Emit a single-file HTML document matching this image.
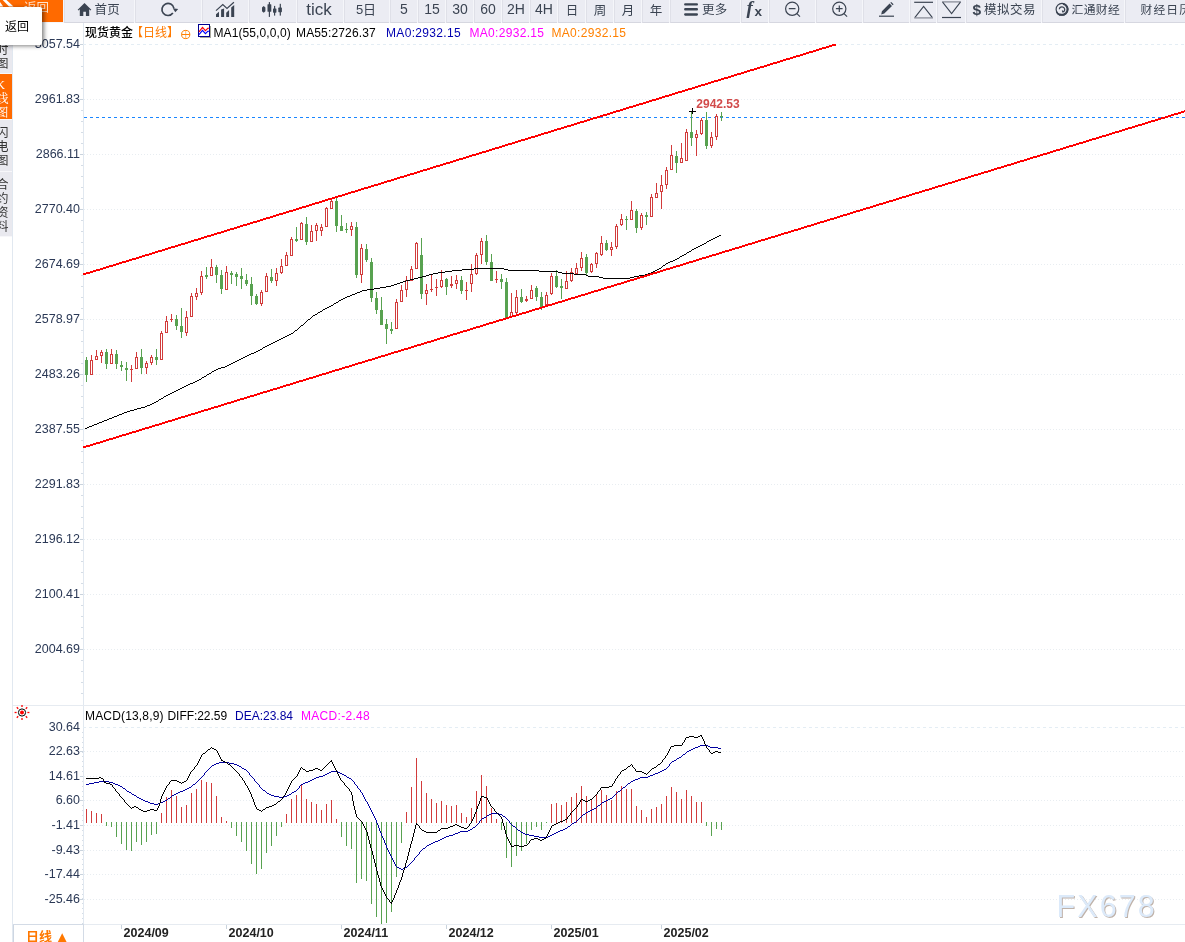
<!DOCTYPE html>
<html lang="zh-CN"><head><meta charset="utf-8"><title>现货黄金 日线</title>
<style>
html,body{margin:0;padding:0;background:#fff}
body{width:1185px;height:942px;overflow:hidden;position:relative;font-family:"Liberation Sans","Noto Sans CJK SC",sans-serif}
#tb{position:absolute;left:0;top:0;width:1185px;height:23px;background:#f5f6fa;overflow:hidden}
.b{position:absolute;top:-1px;height:24px;box-sizing:border-box;background:#ebecf3;border-left:1px solid #dfe0e8;border-bottom:1px solid #d6d7e0;color:#3b4452;font-size:14px;line-height:21px;text-align:center;white-space:nowrap;overflow:hidden}
.cj{font-size:12.5px;letter-spacing:.2px}
#back{position:absolute;left:0;top:0;width:63px;height:22px;background:#ff6a00;color:#ffe3cc;font-size:12.5px;line-height:17px}
#tip{position:absolute;left:-2px;top:6.5px;width:43.5px;height:38px;background:#fff;border-radius:2px;box-shadow:2px 1px 4px rgba(0,0,0,.5);font-size:12px;line-height:40px;color:#000}
#side{position:absolute;left:0;top:23px;width:12px;overflow:hidden}
#side div{width:12px;background:#e9e9ef;border-bottom:1px solid #f7f7fa;box-sizing:border-box;font-size:12.5px;line-height:14px;color:#333;overflow:hidden;position:relative}
#side div span{position:absolute;left:-4px;width:13px;display:block;word-break:break-all}
#leg{position:absolute;left:85px;top:25px;font-size:12px;line-height:16px;white-space:nowrap;color:#000}
#leg span{position:absolute;top:0}
#mleg{position:absolute;left:85px;top:708px;font-size:12px;line-height:16px;white-space:nowrap;color:#000}
#mleg span{position:absolute;top:0}
#per{position:absolute;left:26px;top:928px;font-size:13px;line-height:16px;font-weight:bold;color:#ff7800;white-space:nowrap}
</style></head><body>
<svg id="chart" width="1185" height="942" viewBox="0 0 1185 942" style="position:absolute;left:0;top:0">
<g shape-rendering="crispEdges" fill="none">
<rect x="12" y="23" width="1" height="919" fill="#e1e8f0"/>
<rect x="83" y="23" width="1" height="902" fill="#e1e8f0"/>
<rect x="13" y="705" width="1172" height="1" fill="#e6ebf1"/>
<rect x="13" y="924" width="1172" height="1" fill="#e6ebf1"/>
<rect x="83" y="924" width="1" height="18" fill="#d3dbe6"/>
<rect x="13" y="924" width="1" height="18" fill="#cdd6e2"/>
<rect x="13" y="924" width="70" height="1" fill="#d3dbe6"/>
<line x1="83" y1="44.5" x2="1185" y2="44.5" stroke="#e4edf4" stroke-dasharray="3 3"/>
<rect x="80" y="44" width="3" height="1" fill="#c9d3dd"/>
<line x1="84" y1="99.5" x2="1185" y2="99.5" stroke="#e8edf1" stroke-dasharray="1 2"/>
<rect x="80" y="99" width="3" height="1" fill="#c9d3dd"/>
<line x1="84" y1="154.5" x2="1185" y2="154.5" stroke="#e8edf1" stroke-dasharray="1 2"/>
<rect x="80" y="154" width="3" height="1" fill="#c9d3dd"/>
<line x1="84" y1="209.5" x2="1185" y2="209.5" stroke="#e8edf1" stroke-dasharray="1 2"/>
<rect x="80" y="209" width="3" height="1" fill="#c9d3dd"/>
<line x1="84" y1="264.5" x2="1185" y2="264.5" stroke="#e8edf1" stroke-dasharray="1 2"/>
<rect x="80" y="264" width="3" height="1" fill="#c9d3dd"/>
<line x1="84" y1="319.5" x2="1185" y2="319.5" stroke="#e8edf1" stroke-dasharray="1 2"/>
<rect x="80" y="319" width="3" height="1" fill="#c9d3dd"/>
<line x1="84" y1="374.5" x2="1185" y2="374.5" stroke="#e8edf1" stroke-dasharray="1 2"/>
<rect x="80" y="374" width="3" height="1" fill="#c9d3dd"/>
<line x1="84" y1="429.5" x2="1185" y2="429.5" stroke="#e8edf1" stroke-dasharray="1 2"/>
<rect x="80" y="429" width="3" height="1" fill="#c9d3dd"/>
<line x1="84" y1="484.5" x2="1185" y2="484.5" stroke="#e8edf1" stroke-dasharray="1 2"/>
<rect x="80" y="484" width="3" height="1" fill="#c9d3dd"/>
<line x1="84" y1="539.5" x2="1185" y2="539.5" stroke="#e8edf1" stroke-dasharray="1 2"/>
<rect x="80" y="539" width="3" height="1" fill="#c9d3dd"/>
<line x1="84" y1="594.5" x2="1185" y2="594.5" stroke="#e8edf1" stroke-dasharray="1 2"/>
<rect x="80" y="594" width="3" height="1" fill="#c9d3dd"/>
<line x1="84" y1="649.5" x2="1185" y2="649.5" stroke="#e8edf1" stroke-dasharray="1 2"/>
<rect x="80" y="649" width="3" height="1" fill="#c9d3dd"/>
<rect x="81" y="55" width="2" height="1" fill="#d5dde6"/>
<rect x="81" y="66" width="2" height="1" fill="#d5dde6"/>
<rect x="81" y="77" width="2" height="1" fill="#d5dde6"/>
<rect x="81" y="88" width="2" height="1" fill="#d5dde6"/>
<rect x="81" y="110" width="2" height="1" fill="#d5dde6"/>
<rect x="81" y="121" width="2" height="1" fill="#d5dde6"/>
<rect x="81" y="132" width="2" height="1" fill="#d5dde6"/>
<rect x="81" y="143" width="2" height="1" fill="#d5dde6"/>
<rect x="81" y="165" width="2" height="1" fill="#d5dde6"/>
<rect x="81" y="176" width="2" height="1" fill="#d5dde6"/>
<rect x="81" y="187" width="2" height="1" fill="#d5dde6"/>
<rect x="81" y="198" width="2" height="1" fill="#d5dde6"/>
<rect x="81" y="220" width="2" height="1" fill="#d5dde6"/>
<rect x="81" y="231" width="2" height="1" fill="#d5dde6"/>
<rect x="81" y="242" width="2" height="1" fill="#d5dde6"/>
<rect x="81" y="253" width="2" height="1" fill="#d5dde6"/>
<rect x="81" y="275" width="2" height="1" fill="#d5dde6"/>
<rect x="81" y="286" width="2" height="1" fill="#d5dde6"/>
<rect x="81" y="297" width="2" height="1" fill="#d5dde6"/>
<rect x="81" y="308" width="2" height="1" fill="#d5dde6"/>
<rect x="81" y="330" width="2" height="1" fill="#d5dde6"/>
<rect x="81" y="341" width="2" height="1" fill="#d5dde6"/>
<rect x="81" y="352" width="2" height="1" fill="#d5dde6"/>
<rect x="81" y="363" width="2" height="1" fill="#d5dde6"/>
<rect x="81" y="385" width="2" height="1" fill="#d5dde6"/>
<rect x="81" y="396" width="2" height="1" fill="#d5dde6"/>
<rect x="81" y="407" width="2" height="1" fill="#d5dde6"/>
<rect x="81" y="418" width="2" height="1" fill="#d5dde6"/>
<rect x="81" y="440" width="2" height="1" fill="#d5dde6"/>
<rect x="81" y="451" width="2" height="1" fill="#d5dde6"/>
<rect x="81" y="462" width="2" height="1" fill="#d5dde6"/>
<rect x="81" y="473" width="2" height="1" fill="#d5dde6"/>
<rect x="81" y="495" width="2" height="1" fill="#d5dde6"/>
<rect x="81" y="506" width="2" height="1" fill="#d5dde6"/>
<rect x="81" y="517" width="2" height="1" fill="#d5dde6"/>
<rect x="81" y="528" width="2" height="1" fill="#d5dde6"/>
<rect x="81" y="550" width="2" height="1" fill="#d5dde6"/>
<rect x="81" y="561" width="2" height="1" fill="#d5dde6"/>
<rect x="81" y="572" width="2" height="1" fill="#d5dde6"/>
<rect x="81" y="583" width="2" height="1" fill="#d5dde6"/>
<rect x="81" y="605" width="2" height="1" fill="#d5dde6"/>
<rect x="81" y="616" width="2" height="1" fill="#d5dde6"/>
<rect x="81" y="627" width="2" height="1" fill="#d5dde6"/>
<rect x="81" y="638" width="2" height="1" fill="#d5dde6"/>
<rect x="81" y="660" width="2" height="1" fill="#d5dde6"/>
<rect x="81" y="671" width="2" height="1" fill="#d5dde6"/>
<rect x="81" y="682" width="2" height="1" fill="#d5dde6"/>
<rect x="81" y="693" width="2" height="1" fill="#d5dde6"/>
<line x1="83" y1="727.5" x2="1185" y2="727.5" stroke="#e4edf4" stroke-dasharray="3 3"/>
<line x1="84" y1="751.5" x2="1185" y2="751.5" stroke="#e8edf1" stroke-dasharray="1 2"/>
<rect x="80" y="751" width="3" height="1" fill="#c9d3dd"/>
<line x1="84" y1="776.5" x2="1185" y2="776.5" stroke="#e8edf1" stroke-dasharray="1 2"/>
<rect x="80" y="776" width="3" height="1" fill="#c9d3dd"/>
<line x1="84" y1="800.5" x2="1185" y2="800.5" stroke="#e8edf1" stroke-dasharray="1 2"/>
<rect x="80" y="800" width="3" height="1" fill="#c9d3dd"/>
<line x1="84" y1="825.5" x2="1185" y2="825.5" stroke="#e8edf1" stroke-dasharray="1 2"/>
<rect x="80" y="825" width="3" height="1" fill="#c9d3dd"/>
<line x1="84" y1="850.5" x2="1185" y2="850.5" stroke="#e8edf1" stroke-dasharray="1 2"/>
<rect x="80" y="850" width="3" height="1" fill="#c9d3dd"/>
<line x1="84" y1="874.5" x2="1185" y2="874.5" stroke="#e8edf1" stroke-dasharray="1 2"/>
<rect x="80" y="874" width="3" height="1" fill="#c9d3dd"/>
<line x1="84" y1="899.5" x2="1185" y2="899.5" stroke="#e8edf1" stroke-dasharray="1 2"/>
<rect x="80" y="899" width="3" height="1" fill="#c9d3dd"/>
<rect x="82" y="732" width="1" height="1" fill="#d5dde6"/>
<rect x="82" y="737" width="1" height="1" fill="#d5dde6"/>
<rect x="82" y="742" width="1" height="1" fill="#d5dde6"/>
<rect x="82" y="747" width="1" height="1" fill="#d5dde6"/>
<rect x="82" y="752" width="1" height="1" fill="#d5dde6"/>
<rect x="82" y="756" width="1" height="1" fill="#d5dde6"/>
<rect x="82" y="761" width="1" height="1" fill="#d5dde6"/>
<rect x="82" y="766" width="1" height="1" fill="#d5dde6"/>
<rect x="82" y="771" width="1" height="1" fill="#d5dde6"/>
<rect x="82" y="781" width="1" height="1" fill="#d5dde6"/>
<rect x="82" y="786" width="1" height="1" fill="#d5dde6"/>
<rect x="82" y="791" width="1" height="1" fill="#d5dde6"/>
<rect x="82" y="796" width="1" height="1" fill="#d5dde6"/>
<rect x="82" y="805" width="1" height="1" fill="#d5dde6"/>
<rect x="82" y="810" width="1" height="1" fill="#d5dde6"/>
<rect x="82" y="815" width="1" height="1" fill="#d5dde6"/>
<rect x="82" y="820" width="1" height="1" fill="#d5dde6"/>
<rect x="82" y="830" width="1" height="1" fill="#d5dde6"/>
<rect x="82" y="835" width="1" height="1" fill="#d5dde6"/>
<rect x="82" y="840" width="1" height="1" fill="#d5dde6"/>
<rect x="82" y="845" width="1" height="1" fill="#d5dde6"/>
<rect x="82" y="854" width="1" height="1" fill="#d5dde6"/>
<rect x="82" y="859" width="1" height="1" fill="#d5dde6"/>
<rect x="82" y="864" width="1" height="1" fill="#d5dde6"/>
<rect x="82" y="869" width="1" height="1" fill="#d5dde6"/>
<rect x="82" y="879" width="1" height="1" fill="#d5dde6"/>
<rect x="82" y="884" width="1" height="1" fill="#d5dde6"/>
<rect x="82" y="889" width="1" height="1" fill="#d5dde6"/>
<rect x="82" y="894" width="1" height="1" fill="#d5dde6"/>
<rect x="82" y="898" width="1" height="1" fill="#d5dde6"/>
<rect x="82" y="903" width="1" height="1" fill="#d5dde6"/>
<rect x="82" y="908" width="1" height="1" fill="#d5dde6"/>
<rect x="82" y="913" width="1" height="1" fill="#d5dde6"/>
<rect x="82" y="918" width="1" height="1" fill="#d5dde6"/>
<rect x="82" y="923" width="1" height="1" fill="#d5dde6"/>
<rect x="121" y="925" width="1" height="4" fill="#c9d3dd"/>
<rect x="226" y="925" width="1" height="4" fill="#c9d3dd"/>
<rect x="341" y="925" width="1" height="4" fill="#c9d3dd"/>
<rect x="446" y="925" width="1" height="4" fill="#c9d3dd"/>
<rect x="551" y="925" width="1" height="4" fill="#c9d3dd"/>
<rect x="661" y="925" width="1" height="4" fill="#c9d3dd"/>
</g>
<line x1="84" y1="117.5" x2="1185" y2="117.5" stroke="#1a86ff" stroke-dasharray="3 3" shape-rendering="crispEdges"/>
<g shape-rendering="crispEdges">
<rect x="86" y="357" width="1" height="25" fill="#58a250"/>
<rect x="85" y="360" width="3" height="15" fill="#58a250"/>
<rect x="91" y="355" width="1" height="20" fill="#d23b3b"/>
<rect x="90" y="360" width="3" height="15" fill="#d23b3b"/>
<rect x="91" y="361" width="1" height="13" fill="#fff"/>
<rect x="96" y="350" width="1" height="10" fill="#d23b3b"/>
<rect x="95" y="356" width="3" height="4" fill="#d23b3b"/>
<rect x="96" y="357" width="1" height="2" fill="#fff"/>
<rect x="101" y="350" width="1" height="13" fill="#d23b3b"/>
<rect x="100" y="352" width="3" height="4" fill="#d23b3b"/>
<rect x="101" y="353" width="1" height="2" fill="#fff"/>
<rect x="106" y="349" width="1" height="20" fill="#58a250"/>
<rect x="105" y="352" width="3" height="12" fill="#58a250"/>
<rect x="111" y="349" width="1" height="15" fill="#d23b3b"/>
<rect x="110" y="354" width="3" height="10" fill="#d23b3b"/>
<rect x="111" y="355" width="1" height="8" fill="#fff"/>
<rect x="116" y="350" width="1" height="19" fill="#58a250"/>
<rect x="115" y="354" width="3" height="10" fill="#58a250"/>
<rect x="121" y="361" width="1" height="10" fill="#58a250"/>
<rect x="120" y="365" width="3" height="2" fill="#58a250"/>
<rect x="126" y="362" width="1" height="19" fill="#58a250"/>
<rect x="125" y="368" width="3" height="2" fill="#58a250"/>
<rect x="131" y="365" width="1" height="17" fill="#d23b3b"/>
<rect x="130" y="369" width="3" height="1" fill="#d23b3b"/>
<rect x="136" y="352" width="1" height="17" fill="#d23b3b"/>
<rect x="135" y="357" width="3" height="12" fill="#d23b3b"/>
<rect x="136" y="358" width="1" height="10" fill="#fff"/>
<rect x="141" y="349" width="1" height="25" fill="#58a250"/>
<rect x="140" y="357" width="3" height="11" fill="#58a250"/>
<rect x="146" y="361" width="1" height="13" fill="#d23b3b"/>
<rect x="145" y="363" width="3" height="5" fill="#d23b3b"/>
<rect x="146" y="364" width="1" height="3" fill="#fff"/>
<rect x="151" y="355" width="1" height="10" fill="#d23b3b"/>
<rect x="150" y="357" width="3" height="6" fill="#d23b3b"/>
<rect x="151" y="358" width="1" height="4" fill="#fff"/>
<rect x="156" y="349" width="1" height="16" fill="#58a250"/>
<rect x="155" y="357" width="3" height="3" fill="#58a250"/>
<rect x="161" y="331" width="1" height="29" fill="#d23b3b"/>
<rect x="160" y="333" width="3" height="27" fill="#d23b3b"/>
<rect x="161" y="334" width="1" height="25" fill="#fff"/>
<rect x="166" y="316" width="1" height="17" fill="#d23b3b"/>
<rect x="165" y="321" width="3" height="12" fill="#d23b3b"/>
<rect x="166" y="322" width="1" height="10" fill="#fff"/>
<rect x="171" y="314" width="1" height="8" fill="#d23b3b"/>
<rect x="170" y="319" width="3" height="1" fill="#d23b3b"/>
<rect x="176" y="315" width="1" height="15" fill="#58a250"/>
<rect x="175" y="319" width="3" height="7" fill="#58a250"/>
<rect x="181" y="308" width="1" height="30" fill="#58a250"/>
<rect x="180" y="326" width="3" height="6" fill="#58a250"/>
<rect x="186" y="311" width="1" height="25" fill="#d23b3b"/>
<rect x="185" y="317" width="3" height="16" fill="#d23b3b"/>
<rect x="186" y="318" width="1" height="14" fill="#fff"/>
<rect x="191" y="293" width="1" height="24" fill="#d23b3b"/>
<rect x="190" y="296" width="3" height="21" fill="#d23b3b"/>
<rect x="191" y="297" width="1" height="19" fill="#fff"/>
<rect x="196" y="288" width="1" height="12" fill="#d23b3b"/>
<rect x="195" y="293" width="3" height="4" fill="#d23b3b"/>
<rect x="196" y="294" width="1" height="2" fill="#fff"/>
<rect x="201" y="271" width="1" height="24" fill="#d23b3b"/>
<rect x="200" y="276" width="3" height="17" fill="#d23b3b"/>
<rect x="201" y="277" width="1" height="15" fill="#fff"/>
<rect x="206" y="267" width="1" height="12" fill="#58a250"/>
<rect x="205" y="275" width="3" height="2" fill="#58a250"/>
<rect x="211" y="259" width="1" height="17" fill="#d23b3b"/>
<rect x="210" y="267" width="3" height="9" fill="#d23b3b"/>
<rect x="211" y="268" width="1" height="7" fill="#fff"/>
<rect x="216" y="265" width="1" height="18" fill="#58a250"/>
<rect x="215" y="267" width="3" height="8" fill="#58a250"/>
<rect x="221" y="270" width="1" height="24" fill="#58a250"/>
<rect x="220" y="275" width="3" height="14" fill="#58a250"/>
<rect x="226" y="266" width="1" height="24" fill="#d23b3b"/>
<rect x="225" y="272" width="3" height="18" fill="#d23b3b"/>
<rect x="226" y="273" width="1" height="16" fill="#fff"/>
<rect x="231" y="271" width="1" height="13" fill="#58a250"/>
<rect x="230" y="273" width="3" height="2" fill="#58a250"/>
<rect x="236" y="272" width="1" height="14" fill="#58a250"/>
<rect x="235" y="274" width="3" height="3" fill="#58a250"/>
<rect x="241" y="268" width="1" height="21" fill="#58a250"/>
<rect x="240" y="276" width="3" height="3" fill="#58a250"/>
<rect x="246" y="274" width="1" height="12" fill="#58a250"/>
<rect x="245" y="280" width="3" height="4" fill="#58a250"/>
<rect x="251" y="277" width="1" height="28" fill="#58a250"/>
<rect x="250" y="284" width="3" height="12" fill="#58a250"/>
<rect x="256" y="294" width="1" height="11" fill="#58a250"/>
<rect x="255" y="296" width="3" height="8" fill="#58a250"/>
<rect x="261" y="290" width="1" height="16" fill="#d23b3b"/>
<rect x="260" y="292" width="3" height="12" fill="#d23b3b"/>
<rect x="261" y="293" width="1" height="10" fill="#fff"/>
<rect x="266" y="273" width="1" height="19" fill="#d23b3b"/>
<rect x="265" y="276" width="3" height="16" fill="#d23b3b"/>
<rect x="266" y="277" width="1" height="14" fill="#fff"/>
<rect x="271" y="269" width="1" height="14" fill="#58a250"/>
<rect x="270" y="277" width="3" height="4" fill="#58a250"/>
<rect x="276" y="268" width="1" height="18" fill="#d23b3b"/>
<rect x="275" y="273" width="3" height="8" fill="#d23b3b"/>
<rect x="276" y="274" width="1" height="6" fill="#fff"/>
<rect x="281" y="259" width="1" height="15" fill="#d23b3b"/>
<rect x="280" y="266" width="3" height="7" fill="#d23b3b"/>
<rect x="281" y="267" width="1" height="5" fill="#fff"/>
<rect x="286" y="252" width="1" height="14" fill="#d23b3b"/>
<rect x="285" y="255" width="3" height="11" fill="#d23b3b"/>
<rect x="286" y="256" width="1" height="9" fill="#fff"/>
<rect x="291" y="237" width="1" height="19" fill="#d23b3b"/>
<rect x="290" y="239" width="3" height="17" fill="#d23b3b"/>
<rect x="291" y="240" width="1" height="15" fill="#fff"/>
<rect x="296" y="227" width="1" height="15" fill="#58a250"/>
<rect x="295" y="239" width="3" height="2" fill="#58a250"/>
<rect x="301" y="222" width="1" height="18" fill="#d23b3b"/>
<rect x="300" y="223" width="3" height="17" fill="#d23b3b"/>
<rect x="301" y="224" width="1" height="15" fill="#fff"/>
<rect x="306" y="217" width="1" height="28" fill="#58a250"/>
<rect x="305" y="224" width="3" height="18" fill="#58a250"/>
<rect x="311" y="225" width="1" height="17" fill="#d23b3b"/>
<rect x="310" y="231" width="3" height="11" fill="#d23b3b"/>
<rect x="311" y="232" width="1" height="9" fill="#fff"/>
<rect x="316" y="223" width="1" height="18" fill="#d23b3b"/>
<rect x="315" y="225" width="3" height="6" fill="#d23b3b"/>
<rect x="316" y="226" width="1" height="4" fill="#fff"/>
<rect x="321" y="224" width="1" height="12" fill="#d23b3b"/>
<rect x="320" y="227" width="3" height="4" fill="#d23b3b"/>
<rect x="321" y="228" width="1" height="2" fill="#fff"/>
<rect x="326" y="207" width="1" height="20" fill="#d23b3b"/>
<rect x="325" y="208" width="3" height="19" fill="#d23b3b"/>
<rect x="326" y="209" width="1" height="17" fill="#fff"/>
<rect x="331" y="200" width="1" height="9" fill="#d23b3b"/>
<rect x="330" y="201" width="3" height="8" fill="#d23b3b"/>
<rect x="331" y="202" width="1" height="6" fill="#fff"/>
<rect x="336" y="198" width="1" height="34" fill="#58a250"/>
<rect x="335" y="201" width="3" height="25" fill="#58a250"/>
<rect x="341" y="215" width="1" height="16" fill="#58a250"/>
<rect x="340" y="226" width="3" height="5" fill="#58a250"/>
<rect x="346" y="223" width="1" height="10" fill="#58a250"/>
<rect x="345" y="229" width="3" height="1" fill="#58a250"/>
<rect x="351" y="222" width="1" height="14" fill="#d23b3b"/>
<rect x="350" y="226" width="3" height="4" fill="#d23b3b"/>
<rect x="351" y="227" width="1" height="2" fill="#fff"/>
<rect x="356" y="222" width="1" height="56" fill="#58a250"/>
<rect x="355" y="227" width="3" height="48" fill="#58a250"/>
<rect x="361" y="244" width="1" height="39" fill="#d23b3b"/>
<rect x="360" y="248" width="3" height="27" fill="#d23b3b"/>
<rect x="361" y="249" width="1" height="25" fill="#fff"/>
<rect x="366" y="244" width="1" height="18" fill="#58a250"/>
<rect x="365" y="249" width="3" height="11" fill="#58a250"/>
<rect x="371" y="258" width="1" height="44" fill="#58a250"/>
<rect x="370" y="262" width="3" height="36" fill="#58a250"/>
<rect x="376" y="292" width="1" height="22" fill="#58a250"/>
<rect x="375" y="298" width="3" height="12" fill="#58a250"/>
<rect x="381" y="297" width="1" height="28" fill="#58a250"/>
<rect x="380" y="310" width="3" height="15" fill="#58a250"/>
<rect x="386" y="319" width="1" height="25" fill="#58a250"/>
<rect x="385" y="324" width="3" height="5" fill="#58a250"/>
<rect x="391" y="322" width="1" height="12" fill="#58a250"/>
<rect x="390" y="329" width="3" height="2" fill="#58a250"/>
<rect x="396" y="299" width="1" height="30" fill="#d23b3b"/>
<rect x="395" y="302" width="3" height="27" fill="#d23b3b"/>
<rect x="396" y="303" width="1" height="25" fill="#fff"/>
<rect x="401" y="285" width="1" height="17" fill="#d23b3b"/>
<rect x="400" y="290" width="3" height="12" fill="#d23b3b"/>
<rect x="401" y="291" width="1" height="10" fill="#fff"/>
<rect x="406" y="276" width="1" height="21" fill="#d23b3b"/>
<rect x="405" y="280" width="3" height="10" fill="#d23b3b"/>
<rect x="406" y="281" width="1" height="8" fill="#fff"/>
<rect x="411" y="266" width="1" height="15" fill="#d23b3b"/>
<rect x="410" y="269" width="3" height="12" fill="#d23b3b"/>
<rect x="411" y="270" width="1" height="10" fill="#fff"/>
<rect x="416" y="242" width="1" height="27" fill="#d23b3b"/>
<rect x="415" y="243" width="3" height="26" fill="#d23b3b"/>
<rect x="416" y="244" width="1" height="24" fill="#fff"/>
<rect x="421" y="238" width="1" height="61" fill="#58a250"/>
<rect x="420" y="255" width="3" height="39" fill="#58a250"/>
<rect x="426" y="284" width="1" height="21" fill="#d23b3b"/>
<rect x="425" y="290" width="3" height="4" fill="#d23b3b"/>
<rect x="426" y="291" width="1" height="2" fill="#fff"/>
<rect x="431" y="275" width="1" height="17" fill="#d23b3b"/>
<rect x="430" y="289" width="3" height="1" fill="#d23b3b"/>
<rect x="436" y="279" width="1" height="17" fill="#d23b3b"/>
<rect x="435" y="287" width="3" height="1" fill="#d23b3b"/>
<rect x="441" y="270" width="1" height="18" fill="#d23b3b"/>
<rect x="440" y="280" width="3" height="7" fill="#d23b3b"/>
<rect x="441" y="281" width="1" height="5" fill="#fff"/>
<rect x="446" y="278" width="1" height="17" fill="#58a250"/>
<rect x="445" y="279" width="3" height="8" fill="#58a250"/>
<rect x="451" y="276" width="1" height="12" fill="#d23b3b"/>
<rect x="450" y="284" width="3" height="2" fill="#d23b3b"/>
<rect x="456" y="275" width="1" height="14" fill="#d23b3b"/>
<rect x="455" y="280" width="3" height="4" fill="#d23b3b"/>
<rect x="456" y="281" width="1" height="2" fill="#fff"/>
<rect x="461" y="276" width="1" height="18" fill="#58a250"/>
<rect x="460" y="280" width="3" height="11" fill="#58a250"/>
<rect x="466" y="282" width="1" height="18" fill="#d23b3b"/>
<rect x="465" y="290" width="3" height="1" fill="#d23b3b"/>
<rect x="471" y="264" width="1" height="28" fill="#d23b3b"/>
<rect x="470" y="274" width="3" height="10" fill="#d23b3b"/>
<rect x="471" y="275" width="1" height="8" fill="#fff"/>
<rect x="476" y="253" width="1" height="22" fill="#d23b3b"/>
<rect x="475" y="255" width="3" height="19" fill="#d23b3b"/>
<rect x="476" y="256" width="1" height="17" fill="#fff"/>
<rect x="481" y="238" width="1" height="26" fill="#d23b3b"/>
<rect x="480" y="241" width="3" height="14" fill="#d23b3b"/>
<rect x="481" y="242" width="1" height="12" fill="#fff"/>
<rect x="486" y="235" width="1" height="30" fill="#58a250"/>
<rect x="485" y="241" width="3" height="21" fill="#58a250"/>
<rect x="491" y="254" width="1" height="27" fill="#58a250"/>
<rect x="490" y="262" width="3" height="19" fill="#58a250"/>
<rect x="496" y="271" width="1" height="12" fill="#d23b3b"/>
<rect x="495" y="279" width="3" height="1" fill="#d23b3b"/>
<rect x="501" y="274" width="1" height="15" fill="#58a250"/>
<rect x="500" y="279" width="3" height="3" fill="#58a250"/>
<rect x="506" y="278" width="1" height="40" fill="#58a250"/>
<rect x="505" y="282" width="3" height="36" fill="#58a250"/>
<rect x="511" y="293" width="1" height="24" fill="#d23b3b"/>
<rect x="510" y="312" width="3" height="5" fill="#d23b3b"/>
<rect x="511" y="313" width="1" height="3" fill="#fff"/>
<rect x="516" y="290" width="1" height="24" fill="#d23b3b"/>
<rect x="515" y="297" width="3" height="16" fill="#d23b3b"/>
<rect x="516" y="298" width="1" height="14" fill="#fff"/>
<rect x="521" y="289" width="1" height="14" fill="#58a250"/>
<rect x="520" y="297" width="3" height="5" fill="#58a250"/>
<rect x="526" y="296" width="1" height="6" fill="#d23b3b"/>
<rect x="525" y="299" width="3" height="2" fill="#d23b3b"/>
<rect x="531" y="285" width="1" height="14" fill="#d23b3b"/>
<rect x="530" y="290" width="3" height="9" fill="#d23b3b"/>
<rect x="531" y="291" width="1" height="7" fill="#fff"/>
<rect x="536" y="286" width="1" height="15" fill="#58a250"/>
<rect x="535" y="288" width="3" height="9" fill="#58a250"/>
<rect x="541" y="292" width="1" height="18" fill="#58a250"/>
<rect x="540" y="297" width="3" height="10" fill="#58a250"/>
<rect x="546" y="292" width="1" height="13" fill="#d23b3b"/>
<rect x="545" y="295" width="3" height="10" fill="#d23b3b"/>
<rect x="546" y="296" width="1" height="8" fill="#fff"/>
<rect x="551" y="273" width="1" height="22" fill="#d23b3b"/>
<rect x="550" y="276" width="3" height="18" fill="#d23b3b"/>
<rect x="551" y="277" width="1" height="16" fill="#fff"/>
<rect x="556" y="270" width="1" height="18" fill="#58a250"/>
<rect x="555" y="276" width="3" height="11" fill="#58a250"/>
<rect x="561" y="279" width="1" height="20" fill="#58a250"/>
<rect x="560" y="286" width="3" height="2" fill="#58a250"/>
<rect x="566" y="271" width="1" height="18" fill="#d23b3b"/>
<rect x="565" y="281" width="3" height="8" fill="#d23b3b"/>
<rect x="566" y="282" width="1" height="6" fill="#fff"/>
<rect x="571" y="268" width="1" height="14" fill="#d23b3b"/>
<rect x="570" y="272" width="3" height="9" fill="#d23b3b"/>
<rect x="571" y="273" width="1" height="7" fill="#fff"/>
<rect x="576" y="263" width="1" height="12" fill="#d23b3b"/>
<rect x="575" y="268" width="3" height="6" fill="#d23b3b"/>
<rect x="576" y="269" width="1" height="4" fill="#fff"/>
<rect x="581" y="252" width="1" height="19" fill="#d23b3b"/>
<rect x="580" y="258" width="3" height="10" fill="#d23b3b"/>
<rect x="581" y="259" width="1" height="8" fill="#fff"/>
<rect x="586" y="254" width="1" height="21" fill="#58a250"/>
<rect x="585" y="257" width="3" height="16" fill="#58a250"/>
<rect x="591" y="263" width="1" height="10" fill="#d23b3b"/>
<rect x="590" y="264" width="3" height="8" fill="#d23b3b"/>
<rect x="591" y="265" width="1" height="6" fill="#fff"/>
<rect x="596" y="252" width="1" height="16" fill="#d23b3b"/>
<rect x="595" y="253" width="3" height="11" fill="#d23b3b"/>
<rect x="596" y="254" width="1" height="9" fill="#fff"/>
<rect x="601" y="236" width="1" height="20" fill="#d23b3b"/>
<rect x="600" y="243" width="3" height="12" fill="#d23b3b"/>
<rect x="601" y="244" width="1" height="10" fill="#fff"/>
<rect x="606" y="240" width="1" height="11" fill="#58a250"/>
<rect x="605" y="243" width="3" height="7" fill="#58a250"/>
<rect x="611" y="242" width="1" height="14" fill="#d23b3b"/>
<rect x="610" y="247" width="3" height="3" fill="#d23b3b"/>
<rect x="611" y="248" width="1" height="1" fill="#fff"/>
<rect x="616" y="224" width="1" height="25" fill="#d23b3b"/>
<rect x="615" y="226" width="3" height="21" fill="#d23b3b"/>
<rect x="616" y="227" width="1" height="19" fill="#fff"/>
<rect x="621" y="214" width="1" height="12" fill="#d23b3b"/>
<rect x="620" y="219" width="3" height="6" fill="#d23b3b"/>
<rect x="621" y="220" width="1" height="4" fill="#fff"/>
<rect x="626" y="216" width="1" height="14" fill="#58a250"/>
<rect x="625" y="219" width="3" height="1" fill="#58a250"/>
<rect x="631" y="201" width="1" height="19" fill="#d23b3b"/>
<rect x="630" y="210" width="3" height="10" fill="#d23b3b"/>
<rect x="631" y="211" width="1" height="8" fill="#fff"/>
<rect x="636" y="209" width="1" height="24" fill="#58a250"/>
<rect x="635" y="211" width="3" height="17" fill="#58a250"/>
<rect x="641" y="213" width="1" height="17" fill="#d23b3b"/>
<rect x="640" y="215" width="3" height="13" fill="#d23b3b"/>
<rect x="641" y="216" width="1" height="11" fill="#fff"/>
<rect x="646" y="212" width="1" height="13" fill="#58a250"/>
<rect x="645" y="215" width="3" height="2" fill="#58a250"/>
<rect x="651" y="194" width="1" height="23" fill="#d23b3b"/>
<rect x="650" y="197" width="3" height="20" fill="#d23b3b"/>
<rect x="651" y="198" width="1" height="18" fill="#fff"/>
<rect x="656" y="183" width="1" height="15" fill="#d23b3b"/>
<rect x="655" y="193" width="3" height="5" fill="#d23b3b"/>
<rect x="656" y="194" width="1" height="3" fill="#fff"/>
<rect x="661" y="175" width="1" height="34" fill="#d23b3b"/>
<rect x="660" y="185" width="3" height="7" fill="#d23b3b"/>
<rect x="661" y="186" width="1" height="5" fill="#fff"/>
<rect x="666" y="167" width="1" height="22" fill="#d23b3b"/>
<rect x="665" y="170" width="3" height="15" fill="#d23b3b"/>
<rect x="666" y="171" width="1" height="13" fill="#fff"/>
<rect x="671" y="145" width="1" height="25" fill="#d23b3b"/>
<rect x="670" y="155" width="3" height="15" fill="#d23b3b"/>
<rect x="671" y="156" width="1" height="13" fill="#fff"/>
<rect x="676" y="151" width="1" height="22" fill="#58a250"/>
<rect x="675" y="156" width="3" height="7" fill="#58a250"/>
<rect x="681" y="143" width="1" height="20" fill="#d23b3b"/>
<rect x="680" y="158" width="3" height="5" fill="#d23b3b"/>
<rect x="681" y="159" width="1" height="3" fill="#fff"/>
<rect x="686" y="129" width="1" height="32" fill="#d23b3b"/>
<rect x="685" y="132" width="3" height="29" fill="#d23b3b"/>
<rect x="686" y="133" width="1" height="27" fill="#fff"/>
<rect x="691" y="112" width="1" height="34" fill="#58a250"/>
<rect x="690" y="132" width="3" height="6" fill="#58a250"/>
<rect x="696" y="130" width="1" height="26" fill="#d23b3b"/>
<rect x="695" y="134" width="3" height="4" fill="#d23b3b"/>
<rect x="696" y="135" width="1" height="2" fill="#fff"/>
<rect x="701" y="118" width="1" height="17" fill="#d23b3b"/>
<rect x="700" y="120" width="3" height="14" fill="#d23b3b"/>
<rect x="701" y="121" width="1" height="12" fill="#fff"/>
<rect x="706" y="112" width="1" height="37" fill="#58a250"/>
<rect x="705" y="120" width="3" height="26" fill="#58a250"/>
<rect x="711" y="132" width="1" height="16" fill="#d23b3b"/>
<rect x="710" y="137" width="3" height="9" fill="#d23b3b"/>
<rect x="711" y="138" width="1" height="7" fill="#fff"/>
<rect x="716" y="114" width="1" height="26" fill="#d23b3b"/>
<rect x="715" y="116" width="3" height="21" fill="#d23b3b"/>
<rect x="716" y="117" width="1" height="19" fill="#fff"/>
<rect x="721" y="112" width="1" height="9" fill="#58a250"/>
<rect x="720" y="116" width="3" height="1" fill="#58a250"/>
</g>
<path d="M719 235h2v1h-2zM717 236h2v1h-2zM715 237h2v1h-2zM713 238h2v1h-2zM711 239h2v1h-2zM709 240h2v1h-2zM707 241h2v1h-2zM706 242h1v1h-1zM704 243h2v1h-2zM702 244h2v1h-2zM700 245h2v1h-2zM698 246h2v1h-2zM696 247h2v1h-2zM694 248h2v1h-2zM692 249h2v1h-2zM691 250h1v1h-1zM689 251h2v1h-2zM687 252h2v1h-2zM686 253h1v1h-1zM684 254h2v1h-2zM682 255h2v1h-2zM680 256h2v1h-2zM679 257h1v1h-1zM677 258h2v1h-2zM675 259h2v1h-2zM673 260h2v1h-2zM670 261h3v1h-3zM668 262h2v1h-2zM666 263h2v1h-2zM665 264h1v1h-1zM663 265h2v1h-2zM662 266h1v1h-1zM661 267h1v1h-1zM474 268h30v1h-30zM659 268h2v1h-2zM462 269h12v1h-12zM504 269h4v1h-4zM657 269h2v1h-2zM452 270h10v1h-10zM508 270h31v1h-31zM655 270h2v1h-2zM445 271h7v1h-7zM539 271h19v1h-19zM653 271h2v1h-2zM438 272h7v1h-7zM558 272h4v1h-4zM651 272h2v1h-2zM433 273h5v1h-5zM562 273h12v1h-12zM648 273h3v1h-3zM429 274h4v1h-4zM574 274h12v1h-12zM645 274h3v1h-3zM426 275h3v1h-3zM586 275h2v1h-2zM639 275h6v1h-6zM422 276h4v1h-4zM588 276h11v1h-11zM634 276h5v1h-5zM418 277h4v1h-4zM599 277h4v1h-4zM630 277h4v1h-4zM414 278h4v1h-4zM603 278h27v1h-27zM410 279h4v1h-4zM406 280h4v1h-4zM403 281h3v1h-3zM400 282h3v1h-3zM397 283h3v1h-3zM394 284h3v1h-3zM391 285h3v1h-3zM386 286h5v1h-5zM380 287h6v1h-6zM374 288h6v1h-6zM367 289h7v1h-7zM362 290h5v1h-5zM360 291h2v1h-2zM357 292h3v1h-3zM355 293h2v1h-2zM352 294h3v1h-3zM350 295h2v1h-2zM347 296h3v1h-3zM345 297h2v1h-2zM343 298h2v1h-2zM341 299h2v1h-2zM339 300h2v1h-2zM338 301h1v1h-1zM336 302h2v1h-2zM334 303h2v1h-2zM333 304h1v1h-1zM331 305h2v1h-2zM329 306h2v1h-2zM327 307h2v1h-2zM325 308h2v1h-2zM323 309h2v1h-2zM322 310h1v1h-1zM320 311h2v1h-2zM318 312h2v1h-2zM317 313h1v1h-1zM315 314h2v1h-2zM313 315h2v1h-2zM312 316h1v1h-1zM311 317h1v1h-1zM310 318h1v1h-1zM308 319h2v1h-2zM307 320h1v1h-1zM306 321h1v1h-1zM305 322h1v1h-1zM304 323h1v1h-1zM303 324h1v1h-1zM301 325h2v1h-2zM300 326h1v1h-1zM299 327h1v1h-1zM298 328h1v1h-1zM297 329h1v1h-1zM295 330h2v1h-2zM294 331h1v1h-1zM293 332h1v1h-1zM291 333h2v1h-2zM289 334h2v1h-2zM287 335h2v1h-2zM285 336h2v1h-2zM283 337h2v1h-2zM281 338h2v1h-2zM279 339h2v1h-2zM277 340h2v1h-2zM275 341h2v1h-2zM273 342h2v1h-2zM271 343h2v1h-2zM269 344h2v1h-2zM267 345h2v1h-2zM265 346h2v1h-2zM263 347h2v1h-2zM262 348h1v1h-1zM260 349h2v1h-2zM258 350h2v1h-2zM256 351h2v1h-2zM254 352h2v1h-2zM251 353h3v1h-3zM249 354h2v1h-2zM247 355h2v1h-2zM245 356h2v1h-2zM243 357h2v1h-2zM241 358h2v1h-2zM239 359h2v1h-2zM237 360h2v1h-2zM235 361h2v1h-2zM233 362h2v1h-2zM231 363h2v1h-2zM229 364h2v1h-2zM227 365h2v1h-2zM225 366h2v1h-2zM221 367h4v1h-4zM218 368h3v1h-3zM216 369h2v1h-2zM214 370h2v1h-2zM212 371h2v1h-2zM211 372h1v1h-1zM209 373h2v1h-2zM207 374h2v1h-2zM206 375h1v1h-1zM204 376h2v1h-2zM202 377h2v1h-2zM201 378h1v1h-1zM199 379h2v1h-2zM197 380h2v1h-2zM195 381h2v1h-2zM193 382h2v1h-2zM190 383h3v1h-3zM188 384h2v1h-2zM186 385h2v1h-2zM184 386h2v1h-2zM182 387h2v1h-2zM180 388h2v1h-2zM178 389h2v1h-2zM176 390h2v1h-2zM174 391h2v1h-2zM172 392h2v1h-2zM170 393h2v1h-2zM168 394h2v1h-2zM166 395h2v1h-2zM164 396h2v1h-2zM163 397h1v1h-1zM161 398h2v1h-2zM159 399h2v1h-2zM158 400h1v1h-1zM156 401h2v1h-2zM154 402h2v1h-2zM152 403h2v1h-2zM150 404h2v1h-2zM147 405h3v1h-3zM145 406h2v1h-2zM141 407h4v1h-4zM137 408h4v1h-4zM134 409h3v1h-3zM130 410h4v1h-4zM127 411h3v1h-3zM124 412h3v1h-3zM122 413h2v1h-2zM119 414h3v1h-3zM117 415h2v1h-2zM114 416h3v1h-3zM112 417h2v1h-2zM109 418h3v1h-3zM107 419h2v1h-2zM104 420h3v1h-3zM102 421h2v1h-2zM99 422h3v1h-3zM97 423h2v1h-2zM94 424h3v1h-3zM92 425h2v1h-2zM89 426h3v1h-3zM87 427h2v1h-2zM85 428h2v1h-2z" fill="#000" shape-rendering="crispEdges"/>
<path d="M832 44h4v1h-4zM829 45h7v1h-7zM826 46h6v1h-6zM822 47h7v1h-7zM819 48h7v1h-7zM816 49h6v1h-6zM813 50h6v1h-6zM809 51h7v1h-7zM806 52h7v1h-7zM803 53h6v1h-6zM800 54h6v1h-6zM796 55h7v1h-7zM793 56h7v1h-7zM790 57h6v1h-6zM786 58h7v1h-7zM783 59h7v1h-7zM780 60h6v1h-6zM777 61h6v1h-6zM773 62h7v1h-7zM770 63h7v1h-7zM767 64h6v1h-6zM764 65h6v1h-6zM760 66h7v1h-7zM757 67h7v1h-7zM754 68h6v1h-6zM750 69h7v1h-7zM747 70h7v1h-7zM744 71h6v1h-6zM741 72h6v1h-6zM737 73h7v1h-7zM734 74h7v1h-7zM731 75h6v1h-6zM728 76h6v1h-6zM724 77h7v1h-7zM721 78h7v1h-7zM718 79h6v1h-6zM714 80h7v1h-7zM711 81h7v1h-7zM708 82h6v1h-6zM705 83h6v1h-6zM701 84h7v1h-7zM698 85h7v1h-7zM695 86h6v1h-6zM692 87h6v1h-6zM688 88h7v1h-7zM685 89h7v1h-7zM682 90h6v1h-6zM678 91h7v1h-7zM675 92h7v1h-7zM672 93h6v1h-6zM669 94h6v1h-6zM665 95h7v1h-7zM662 96h7v1h-7zM659 97h6v1h-6zM656 98h6v1h-6zM652 99h7v1h-7zM649 100h7v1h-7zM646 101h6v1h-6zM643 102h6v1h-6zM639 103h7v1h-7zM636 104h7v1h-7zM633 105h6v1h-6zM629 106h7v1h-7zM626 107h7v1h-7zM623 108h6v1h-6zM620 109h6v1h-6zM616 110h7v1h-7zM613 111h7v1h-7zM610 112h6v1h-6zM607 113h6v1h-6zM603 114h7v1h-7zM600 115h7v1h-7zM597 116h6v1h-6zM593 117h7v1h-7zM590 118h7v1h-7zM587 119h6v1h-6zM584 120h6v1h-6zM580 121h7v1h-7zM577 122h7v1h-7zM574 123h6v1h-6zM571 124h6v1h-6zM567 125h7v1h-7zM564 126h7v1h-7zM561 127h6v1h-6zM557 128h7v1h-7zM554 129h7v1h-7zM551 130h6v1h-6zM548 131h6v1h-6zM544 132h7v1h-7zM541 133h7v1h-7zM538 134h6v1h-6zM535 135h6v1h-6zM531 136h7v1h-7zM528 137h7v1h-7zM525 138h6v1h-6zM521 139h7v1h-7zM518 140h7v1h-7zM515 141h6v1h-6zM512 142h6v1h-6zM508 143h7v1h-7zM505 144h7v1h-7zM502 145h6v1h-6zM499 146h6v1h-6zM495 147h7v1h-7zM492 148h7v1h-7zM489 149h6v1h-6zM486 150h6v1h-6zM482 151h7v1h-7zM479 152h7v1h-7zM476 153h6v1h-6zM472 154h7v1h-7zM469 155h7v1h-7zM466 156h6v1h-6zM463 157h6v1h-6zM459 158h7v1h-7zM456 159h7v1h-7zM453 160h6v1h-6zM450 161h6v1h-6zM446 162h7v1h-7zM443 163h7v1h-7zM440 164h6v1h-6zM436 165h7v1h-7zM433 166h7v1h-7zM430 167h6v1h-6zM427 168h6v1h-6zM423 169h7v1h-7zM420 170h7v1h-7zM417 171h6v1h-6zM414 172h6v1h-6zM410 173h7v1h-7zM407 174h7v1h-7zM404 175h6v1h-6zM400 176h7v1h-7zM397 177h7v1h-7zM394 178h6v1h-6zM391 179h6v1h-6zM387 180h7v1h-7zM384 181h7v1h-7zM381 182h6v1h-6zM378 183h6v1h-6zM374 184h7v1h-7zM371 185h7v1h-7zM368 186h6v1h-6zM364 187h7v1h-7zM361 188h7v1h-7zM358 189h6v1h-6zM355 190h6v1h-6zM351 191h7v1h-7zM348 192h7v1h-7zM345 193h6v1h-6zM342 194h6v1h-6zM338 195h7v1h-7zM335 196h7v1h-7zM332 197h6v1h-6zM328 198h7v1h-7zM325 199h7v1h-7zM322 200h6v1h-6zM319 201h6v1h-6zM315 202h7v1h-7zM312 203h7v1h-7zM309 204h6v1h-6zM306 205h6v1h-6zM302 206h7v1h-7zM299 207h7v1h-7zM296 208h6v1h-6zM293 209h6v1h-6zM289 210h7v1h-7zM286 211h7v1h-7zM283 212h6v1h-6zM279 213h7v1h-7zM276 214h7v1h-7zM273 215h6v1h-6zM270 216h6v1h-6zM266 217h7v1h-7zM263 218h7v1h-7zM260 219h6v1h-6zM257 220h6v1h-6zM253 221h7v1h-7zM250 222h7v1h-7zM247 223h6v1h-6zM243 224h7v1h-7zM240 225h7v1h-7zM237 226h6v1h-6zM234 227h6v1h-6zM230 228h7v1h-7zM227 229h7v1h-7zM224 230h6v1h-6zM221 231h6v1h-6zM217 232h7v1h-7zM214 233h7v1h-7zM211 234h6v1h-6zM207 235h7v1h-7zM204 236h7v1h-7zM201 237h6v1h-6zM198 238h6v1h-6zM194 239h7v1h-7zM191 240h7v1h-7zM188 241h6v1h-6zM185 242h6v1h-6zM181 243h7v1h-7zM178 244h7v1h-7zM175 245h6v1h-6zM171 246h7v1h-7zM168 247h7v1h-7zM165 248h6v1h-6zM162 249h6v1h-6zM158 250h7v1h-7zM155 251h7v1h-7zM152 252h6v1h-6zM149 253h6v1h-6zM145 254h7v1h-7zM142 255h7v1h-7zM139 256h6v1h-6zM136 257h6v1h-6zM132 258h7v1h-7zM129 259h7v1h-7zM126 260h6v1h-6zM122 261h7v1h-7zM119 262h7v1h-7zM116 263h6v1h-6zM113 264h6v1h-6zM109 265h7v1h-7zM106 266h7v1h-7zM103 267h6v1h-6zM100 268h6v1h-6zM96 269h7v1h-7zM93 270h7v1h-7zM90 271h6v1h-6zM86 272h7v1h-7zM83 273h7v1h-7zM83 274h3v1h-3zM1184 110h1v1h-1zM1181 111h4v1h-4zM1178 112h6v1h-6zM1174 113h7v1h-7zM1171 114h7v1h-7zM1168 115h6v1h-6zM1165 116h6v1h-6zM1161 117h7v1h-7zM1158 118h7v1h-7zM1155 119h6v1h-6zM1151 120h7v1h-7zM1148 121h7v1h-7zM1145 122h6v1h-6zM1142 123h6v1h-6zM1138 124h7v1h-7zM1135 125h7v1h-7zM1132 126h6v1h-6zM1128 127h7v1h-7zM1125 128h7v1h-7zM1122 129h6v1h-6zM1119 130h6v1h-6zM1115 131h7v1h-7zM1112 132h7v1h-7zM1109 133h6v1h-6zM1106 134h6v1h-6zM1102 135h7v1h-7zM1099 136h7v1h-7zM1096 137h6v1h-6zM1092 138h7v1h-7zM1089 139h7v1h-7zM1086 140h6v1h-6zM1083 141h6v1h-6zM1079 142h7v1h-7zM1076 143h7v1h-7zM1073 144h6v1h-6zM1069 145h7v1h-7zM1066 146h7v1h-7zM1063 147h6v1h-6zM1060 148h6v1h-6zM1056 149h7v1h-7zM1053 150h7v1h-7zM1050 151h6v1h-6zM1047 152h6v1h-6zM1043 153h7v1h-7zM1040 154h7v1h-7zM1037 155h6v1h-6zM1033 156h7v1h-7zM1030 157h7v1h-7zM1027 158h6v1h-6zM1024 159h6v1h-6zM1020 160h7v1h-7zM1017 161h7v1h-7zM1014 162h6v1h-6zM1011 163h6v1h-6zM1007 164h7v1h-7zM1004 165h7v1h-7zM1001 166h6v1h-6zM997 167h7v1h-7zM994 168h7v1h-7zM991 169h6v1h-6zM988 170h6v1h-6zM984 171h7v1h-7zM981 172h7v1h-7zM978 173h6v1h-6zM974 174h7v1h-7zM971 175h7v1h-7zM968 176h6v1h-6zM965 177h6v1h-6zM961 178h7v1h-7zM958 179h7v1h-7zM955 180h6v1h-6zM952 181h6v1h-6zM948 182h7v1h-7zM945 183h7v1h-7zM942 184h6v1h-6zM938 185h7v1h-7zM935 186h7v1h-7zM932 187h6v1h-6zM929 188h6v1h-6zM925 189h7v1h-7zM922 190h7v1h-7zM919 191h6v1h-6zM915 192h7v1h-7zM912 193h7v1h-7zM909 194h6v1h-6zM906 195h6v1h-6zM902 196h7v1h-7zM899 197h7v1h-7zM896 198h6v1h-6zM893 199h6v1h-6zM889 200h7v1h-7zM886 201h7v1h-7zM883 202h6v1h-6zM879 203h7v1h-7zM876 204h7v1h-7zM873 205h6v1h-6zM870 206h6v1h-6zM866 207h7v1h-7zM863 208h7v1h-7zM860 209h6v1h-6zM856 210h7v1h-7zM853 211h7v1h-7zM850 212h6v1h-6zM847 213h6v1h-6zM843 214h7v1h-7zM840 215h7v1h-7zM837 216h6v1h-6zM834 217h6v1h-6zM830 218h7v1h-7zM827 219h7v1h-7zM824 220h6v1h-6zM820 221h7v1h-7zM817 222h7v1h-7zM814 223h6v1h-6zM811 224h6v1h-6zM807 225h7v1h-7zM804 226h7v1h-7zM801 227h6v1h-6zM798 228h6v1h-6zM794 229h7v1h-7zM791 230h7v1h-7zM788 231h6v1h-6zM784 232h7v1h-7zM781 233h7v1h-7zM778 234h6v1h-6zM775 235h6v1h-6zM771 236h7v1h-7zM768 237h7v1h-7zM765 238h6v1h-6zM761 239h7v1h-7zM758 240h7v1h-7zM755 241h6v1h-6zM752 242h6v1h-6zM748 243h7v1h-7zM745 244h7v1h-7zM742 245h6v1h-6zM739 246h6v1h-6zM735 247h7v1h-7zM732 248h7v1h-7zM729 249h6v1h-6zM725 250h7v1h-7zM722 251h7v1h-7zM719 252h6v1h-6zM716 253h6v1h-6zM712 254h7v1h-7zM709 255h7v1h-7zM706 256h6v1h-6zM702 257h7v1h-7zM699 258h7v1h-7zM696 259h6v1h-6zM693 260h6v1h-6zM689 261h7v1h-7zM686 262h7v1h-7zM683 263h6v1h-6zM680 264h6v1h-6zM676 265h7v1h-7zM673 266h7v1h-7zM670 267h6v1h-6zM666 268h7v1h-7zM663 269h7v1h-7zM660 270h6v1h-6zM657 271h6v1h-6zM653 272h7v1h-7zM650 273h7v1h-7zM647 274h6v1h-6zM644 275h6v1h-6zM640 276h7v1h-7zM637 277h7v1h-7zM634 278h6v1h-6zM630 279h7v1h-7zM627 280h7v1h-7zM624 281h6v1h-6zM621 282h6v1h-6zM617 283h7v1h-7zM614 284h7v1h-7zM611 285h6v1h-6zM607 286h7v1h-7zM604 287h7v1h-7zM601 288h6v1h-6zM598 289h6v1h-6zM594 290h7v1h-7zM591 291h7v1h-7zM588 292h6v1h-6zM585 293h6v1h-6zM581 294h7v1h-7zM578 295h7v1h-7zM575 296h6v1h-6zM571 297h7v1h-7zM568 298h7v1h-7zM565 299h6v1h-6zM562 300h6v1h-6zM558 301h7v1h-7zM555 302h7v1h-7zM552 303h6v1h-6zM548 304h7v1h-7zM545 305h7v1h-7zM542 306h6v1h-6zM539 307h6v1h-6zM535 308h7v1h-7zM532 309h7v1h-7zM529 310h6v1h-6zM526 311h6v1h-6zM522 312h7v1h-7zM519 313h7v1h-7zM516 314h6v1h-6zM512 315h7v1h-7zM509 316h7v1h-7zM506 317h6v1h-6zM503 318h6v1h-6zM499 319h7v1h-7zM496 320h7v1h-7zM493 321h6v1h-6zM489 322h7v1h-7zM486 323h7v1h-7zM483 324h6v1h-6zM480 325h6v1h-6zM476 326h7v1h-7zM473 327h7v1h-7zM470 328h6v1h-6zM467 329h6v1h-6zM463 330h7v1h-7zM460 331h7v1h-7zM457 332h6v1h-6zM453 333h7v1h-7zM450 334h7v1h-7zM447 335h6v1h-6zM444 336h6v1h-6zM440 337h7v1h-7zM437 338h7v1h-7zM434 339h6v1h-6zM431 340h6v1h-6zM427 341h7v1h-7zM424 342h7v1h-7zM421 343h6v1h-6zM417 344h7v1h-7zM414 345h7v1h-7zM411 346h6v1h-6zM408 347h6v1h-6zM404 348h7v1h-7zM401 349h7v1h-7zM398 350h6v1h-6zM394 351h7v1h-7zM391 352h7v1h-7zM388 353h6v1h-6zM385 354h6v1h-6zM381 355h7v1h-7zM378 356h7v1h-7zM375 357h6v1h-6zM372 358h6v1h-6zM368 359h7v1h-7zM365 360h7v1h-7zM362 361h6v1h-6zM358 362h7v1h-7zM355 363h7v1h-7zM352 364h6v1h-6zM349 365h6v1h-6zM345 366h7v1h-7zM342 367h7v1h-7zM339 368h6v1h-6zM335 369h7v1h-7zM332 370h7v1h-7zM329 371h6v1h-6zM326 372h6v1h-6zM322 373h7v1h-7zM319 374h7v1h-7zM316 375h6v1h-6zM313 376h6v1h-6zM309 377h7v1h-7zM306 378h7v1h-7zM303 379h6v1h-6zM299 380h7v1h-7zM296 381h7v1h-7zM293 382h6v1h-6zM290 383h6v1h-6zM286 384h7v1h-7zM283 385h7v1h-7zM280 386h6v1h-6zM277 387h6v1h-6zM273 388h7v1h-7zM270 389h7v1h-7zM267 390h6v1h-6zM263 391h7v1h-7zM260 392h7v1h-7zM257 393h6v1h-6zM254 394h6v1h-6zM250 395h7v1h-7zM247 396h7v1h-7zM244 397h6v1h-6zM240 398h7v1h-7zM237 399h7v1h-7zM234 400h6v1h-6zM231 401h6v1h-6zM227 402h7v1h-7zM224 403h7v1h-7zM221 404h6v1h-6zM218 405h6v1h-6zM214 406h7v1h-7zM211 407h7v1h-7zM208 408h6v1h-6zM204 409h7v1h-7zM201 410h7v1h-7zM198 411h6v1h-6zM195 412h6v1h-6zM191 413h7v1h-7zM188 414h7v1h-7zM185 415h6v1h-6zM181 416h7v1h-7zM178 417h7v1h-7zM175 418h6v1h-6zM172 419h6v1h-6zM168 420h7v1h-7zM165 421h7v1h-7zM162 422h6v1h-6zM159 423h6v1h-6zM155 424h7v1h-7zM152 425h7v1h-7zM149 426h6v1h-6zM145 427h7v1h-7zM142 428h7v1h-7zM139 429h6v1h-6zM136 430h6v1h-6zM132 431h7v1h-7zM129 432h7v1h-7zM126 433h6v1h-6zM122 434h7v1h-7zM119 435h7v1h-7zM116 436h6v1h-6zM113 437h6v1h-6zM109 438h7v1h-7zM106 439h7v1h-7zM103 440h6v1h-6zM100 441h6v1h-6zM96 442h7v1h-7zM93 443h7v1h-7zM90 444h6v1h-6zM86 445h7v1h-7zM83 446h7v1h-7zM83 447h3v1h-3z" fill="#ff0000" shape-rendering="crispEdges"/>
<g shape-rendering="crispEdges"><rect x="689" y="111" width="7" height="1" fill="#000"/><rect x="692" y="108" width="1" height="6" fill="#000"/></g>
<g shape-rendering="crispEdges">
<rect x="86" y="809" width="1" height="14" fill="#d23b3b"/>
<rect x="91" y="811" width="1" height="12" fill="#d23b3b"/>
<rect x="96" y="813" width="1" height="10" fill="#d23b3b"/>
<rect x="101" y="814" width="1" height="9" fill="#d23b3b"/>
<rect x="106" y="822" width="1" height="4" fill="#58a250"/>
<rect x="111" y="822" width="1" height="5" fill="#58a250"/>
<rect x="116" y="822" width="1" height="15" fill="#58a250"/>
<rect x="121" y="822" width="1" height="22" fill="#58a250"/>
<rect x="126" y="822" width="1" height="28" fill="#58a250"/>
<rect x="131" y="822" width="1" height="29" fill="#58a250"/>
<rect x="136" y="822" width="1" height="20" fill="#58a250"/>
<rect x="141" y="822" width="1" height="23" fill="#58a250"/>
<rect x="146" y="822" width="1" height="20" fill="#58a250"/>
<rect x="151" y="822" width="1" height="13" fill="#58a250"/>
<rect x="156" y="822" width="1" height="12" fill="#58a250"/>
<rect x="161" y="813" width="1" height="10" fill="#d23b3b"/>
<rect x="166" y="797" width="1" height="26" fill="#d23b3b"/>
<rect x="171" y="790" width="1" height="33" fill="#d23b3b"/>
<rect x="176" y="796" width="1" height="27" fill="#d23b3b"/>
<rect x="181" y="807" width="1" height="16" fill="#d23b3b"/>
<rect x="186" y="805" width="1" height="18" fill="#d23b3b"/>
<rect x="191" y="793" width="1" height="30" fill="#d23b3b"/>
<rect x="196" y="789" width="1" height="34" fill="#d23b3b"/>
<rect x="201" y="780" width="1" height="43" fill="#d23b3b"/>
<rect x="206" y="782" width="1" height="41" fill="#d23b3b"/>
<rect x="211" y="783" width="1" height="40" fill="#d23b3b"/>
<rect x="216" y="796" width="1" height="27" fill="#d23b3b"/>
<rect x="221" y="817" width="1" height="6" fill="#d23b3b"/>
<rect x="226" y="821" width="1" height="2" fill="#d23b3b"/>
<rect x="231" y="822" width="1" height="6" fill="#58a250"/>
<rect x="236" y="822" width="1" height="14" fill="#58a250"/>
<rect x="241" y="822" width="1" height="20" fill="#58a250"/>
<rect x="246" y="822" width="1" height="29" fill="#58a250"/>
<rect x="251" y="822" width="1" height="42" fill="#58a250"/>
<rect x="256" y="822" width="1" height="52" fill="#58a250"/>
<rect x="261" y="822" width="1" height="47" fill="#58a250"/>
<rect x="266" y="822" width="1" height="31" fill="#58a250"/>
<rect x="271" y="822" width="1" height="24" fill="#58a250"/>
<rect x="276" y="822" width="1" height="14" fill="#58a250"/>
<rect x="281" y="822" width="1" height="5" fill="#58a250"/>
<rect x="286" y="814" width="1" height="9" fill="#d23b3b"/>
<rect x="291" y="799" width="1" height="24" fill="#d23b3b"/>
<rect x="296" y="795" width="1" height="28" fill="#d23b3b"/>
<rect x="301" y="785" width="1" height="38" fill="#d23b3b"/>
<rect x="306" y="799" width="1" height="24" fill="#d23b3b"/>
<rect x="311" y="802" width="1" height="21" fill="#d23b3b"/>
<rect x="316" y="804" width="1" height="19" fill="#d23b3b"/>
<rect x="321" y="810" width="1" height="13" fill="#d23b3b"/>
<rect x="326" y="804" width="1" height="19" fill="#d23b3b"/>
<rect x="331" y="800" width="1" height="23" fill="#d23b3b"/>
<rect x="336" y="819" width="1" height="4" fill="#d23b3b"/>
<rect x="341" y="822" width="1" height="15" fill="#58a250"/>
<rect x="346" y="822" width="1" height="24" fill="#58a250"/>
<rect x="351" y="822" width="1" height="27" fill="#58a250"/>
<rect x="356" y="822" width="1" height="61" fill="#58a250"/>
<rect x="361" y="822" width="1" height="57" fill="#58a250"/>
<rect x="366" y="822" width="1" height="59" fill="#58a250"/>
<rect x="371" y="822" width="1" height="82" fill="#58a250"/>
<rect x="376" y="822" width="1" height="95" fill="#58a250"/>
<rect x="381" y="822" width="1" height="102" fill="#58a250"/>
<rect x="386" y="822" width="1" height="101" fill="#58a250"/>
<rect x="391" y="822" width="1" height="90" fill="#58a250"/>
<rect x="396" y="822" width="1" height="55" fill="#58a250"/>
<rect x="401" y="822" width="1" height="21" fill="#58a250"/>
<rect x="406" y="812" width="1" height="11" fill="#d23b3b"/>
<rect x="411" y="787" width="1" height="36" fill="#d23b3b"/>
<rect x="416" y="758" width="1" height="65" fill="#d23b3b"/>
<rect x="421" y="781" width="1" height="42" fill="#d23b3b"/>
<rect x="426" y="793" width="1" height="30" fill="#d23b3b"/>
<rect x="431" y="799" width="1" height="24" fill="#d23b3b"/>
<rect x="436" y="803" width="1" height="20" fill="#d23b3b"/>
<rect x="441" y="801" width="1" height="22" fill="#d23b3b"/>
<rect x="446" y="805" width="1" height="18" fill="#d23b3b"/>
<rect x="451" y="806" width="1" height="17" fill="#d23b3b"/>
<rect x="456" y="805" width="1" height="18" fill="#d23b3b"/>
<rect x="461" y="813" width="1" height="10" fill="#d23b3b"/>
<rect x="466" y="817" width="1" height="6" fill="#d23b3b"/>
<rect x="471" y="808" width="1" height="15" fill="#d23b3b"/>
<rect x="476" y="791" width="1" height="32" fill="#d23b3b"/>
<rect x="481" y="775" width="1" height="48" fill="#d23b3b"/>
<rect x="486" y="786" width="1" height="37" fill="#d23b3b"/>
<rect x="491" y="808" width="1" height="15" fill="#d23b3b"/>
<rect x="496" y="819" width="1" height="4" fill="#d23b3b"/>
<rect x="501" y="822" width="1" height="8" fill="#58a250"/>
<rect x="506" y="822" width="1" height="36" fill="#58a250"/>
<rect x="511" y="822" width="1" height="45" fill="#58a250"/>
<rect x="516" y="822" width="1" height="34" fill="#58a250"/>
<rect x="521" y="822" width="1" height="29" fill="#58a250"/>
<rect x="526" y="822" width="1" height="22" fill="#58a250"/>
<rect x="531" y="822" width="1" height="8" fill="#58a250"/>
<rect x="536" y="822" width="1" height="5" fill="#58a250"/>
<rect x="541" y="822" width="1" height="8" fill="#58a250"/>
<rect x="546" y="822" width="1" height="1" fill="#58a250"/>
<rect x="551" y="804" width="1" height="19" fill="#d23b3b"/>
<rect x="556" y="803" width="1" height="20" fill="#d23b3b"/>
<rect x="561" y="805" width="1" height="18" fill="#d23b3b"/>
<rect x="566" y="802" width="1" height="21" fill="#d23b3b"/>
<rect x="571" y="797" width="1" height="26" fill="#d23b3b"/>
<rect x="576" y="793" width="1" height="30" fill="#d23b3b"/>
<rect x="581" y="786" width="1" height="37" fill="#d23b3b"/>
<rect x="586" y="796" width="1" height="27" fill="#d23b3b"/>
<rect x="591" y="799" width="1" height="24" fill="#d23b3b"/>
<rect x="596" y="795" width="1" height="28" fill="#d23b3b"/>
<rect x="601" y="790" width="1" height="33" fill="#d23b3b"/>
<rect x="606" y="795" width="1" height="28" fill="#d23b3b"/>
<rect x="611" y="800" width="1" height="23" fill="#d23b3b"/>
<rect x="616" y="791" width="1" height="32" fill="#d23b3b"/>
<rect x="621" y="786" width="1" height="37" fill="#d23b3b"/>
<rect x="626" y="789" width="1" height="34" fill="#d23b3b"/>
<rect x="631" y="789" width="1" height="34" fill="#d23b3b"/>
<rect x="636" y="806" width="1" height="17" fill="#d23b3b"/>
<rect x="641" y="810" width="1" height="13" fill="#d23b3b"/>
<rect x="646" y="817" width="1" height="6" fill="#d23b3b"/>
<rect x="651" y="809" width="1" height="14" fill="#d23b3b"/>
<rect x="656" y="807" width="1" height="16" fill="#d23b3b"/>
<rect x="661" y="804" width="1" height="19" fill="#d23b3b"/>
<rect x="666" y="796" width="1" height="27" fill="#d23b3b"/>
<rect x="671" y="787" width="1" height="36" fill="#d23b3b"/>
<rect x="676" y="792" width="1" height="31" fill="#d23b3b"/>
<rect x="681" y="799" width="1" height="24" fill="#d23b3b"/>
<rect x="686" y="790" width="1" height="33" fill="#d23b3b"/>
<rect x="691" y="796" width="1" height="27" fill="#d23b3b"/>
<rect x="696" y="802" width="1" height="21" fill="#d23b3b"/>
<rect x="701" y="802" width="1" height="21" fill="#d23b3b"/>
<rect x="706" y="822" width="1" height="4" fill="#58a250"/>
<rect x="711" y="822" width="1" height="14" fill="#58a250"/>
<rect x="716" y="822" width="1" height="7" fill="#58a250"/>
<rect x="721" y="822" width="1" height="8" fill="#58a250"/>
</g>
<path d="M700 745h8v1h-8zM698 746h2v1h-2zM708 746h2v1h-2zM695 747h3v1h-3zM710 747h8v1h-8zM693 748h2v1h-2zM718 748h3v1h-3zM691 749h2v1h-2zM689 750h2v1h-2zM687 751h2v1h-2zM686 752h1v1h-1zM685 753h1v1h-1zM683 754h2v1h-2zM682 755h1v1h-1zM681 756h1v1h-1zM679 757h2v1h-2zM677 758h2v1h-2zM676 759h1v1h-1zM674 760h2v1h-2zM672 761h2v1h-2zM219 762h10v1h-10zM671 762h1v1h-1zM216 763h3v1h-3zM229 763h5v1h-5zM670 763h1v1h-1zM214 764h2v1h-2zM234 764h3v1h-3zM669 764h1v1h-1zM212 765h2v1h-2zM237 765h2v1h-2zM669 765h1v1h-1zM211 766h1v1h-1zM239 766h2v1h-2zM668 766h1v1h-1zM210 767h1v1h-1zM241 767h1v1h-1zM667 767h1v1h-1zM209 768h1v1h-1zM242 768h2v1h-2zM666 768h1v1h-1zM208 769h1v1h-1zM244 769h2v1h-2zM664 769h2v1h-2zM207 770h1v1h-1zM246 770h1v1h-1zM662 770h2v1h-2zM206 771h1v1h-1zM247 771h1v1h-1zM331 771h7v1h-7zM660 771h2v1h-2zM205 772h1v1h-1zM248 772h1v1h-1zM329 772h2v1h-2zM338 772h2v1h-2zM658 772h2v1h-2zM204 773h1v1h-1zM249 773h1v1h-1zM327 773h2v1h-2zM340 773h2v1h-2zM655 773h3v1h-3zM204 774h1v1h-1zM249 774h1v1h-1zM325 774h2v1h-2zM342 774h2v1h-2zM653 774h2v1h-2zM203 775h1v1h-1zM250 775h1v1h-1zM323 775h2v1h-2zM344 775h2v1h-2zM650 775h3v1h-3zM202 776h1v1h-1zM251 776h1v1h-1zM319 776h4v1h-4zM346 776h1v1h-1zM648 776h2v1h-2zM201 777h1v1h-1zM252 777h1v1h-1zM316 777h3v1h-3zM347 777h2v1h-2zM640 777h8v1h-8zM200 778h1v1h-1zM253 778h1v1h-1zM314 778h2v1h-2zM349 778h2v1h-2zM638 778h2v1h-2zM199 779h1v1h-1zM254 779h1v1h-1zM312 779h2v1h-2zM351 779h1v1h-1zM635 779h3v1h-3zM198 780h1v1h-1zM254 780h1v1h-1zM310 780h2v1h-2zM352 780h1v1h-1zM633 780h2v1h-2zM99 781h10v1h-10zM197 781h1v1h-1zM255 781h1v1h-1zM308 781h2v1h-2zM353 781h1v1h-1zM631 781h2v1h-2zM94 782h5v1h-5zM109 782h4v1h-4zM196 782h1v1h-1zM256 782h1v1h-1zM305 782h3v1h-3zM354 782h1v1h-1zM630 782h1v1h-1zM89 783h5v1h-5zM113 783h2v1h-2zM195 783h1v1h-1zM257 783h1v1h-1zM303 783h2v1h-2zM354 783h1v1h-1zM628 783h2v1h-2zM86 784h3v1h-3zM115 784h3v1h-3zM193 784h2v1h-2zM258 784h1v1h-1zM301 784h2v1h-2zM355 784h1v1h-1zM627 784h1v1h-1zM118 785h2v1h-2zM192 785h1v1h-1zM259 785h1v1h-1zM300 785h1v1h-1zM356 785h1v1h-1zM626 785h1v1h-1zM120 786h2v1h-2zM191 786h1v1h-1zM259 786h1v1h-1zM299 786h1v1h-1zM357 786h1v1h-1zM625 786h1v1h-1zM122 787h1v1h-1zM189 787h2v1h-2zM260 787h1v1h-1zM299 787h1v1h-1zM357 787h1v1h-1zM623 787h2v1h-2zM123 788h2v1h-2zM187 788h2v1h-2zM261 788h1v1h-1zM298 788h1v1h-1zM358 788h1v1h-1zM622 788h1v1h-1zM125 789h1v1h-1zM185 789h2v1h-2zM262 789h1v1h-1zM297 789h1v1h-1zM359 789h1v1h-1zM621 789h1v1h-1zM126 790h1v1h-1zM183 790h2v1h-2zM263 790h2v1h-2zM296 790h1v1h-1zM360 790h1v1h-1zM620 790h1v1h-1zM127 791h2v1h-2zM180 791h3v1h-3zM265 791h1v1h-1zM294 791h2v1h-2zM360 791h1v1h-1zM618 791h2v1h-2zM129 792h2v1h-2zM178 792h2v1h-2zM266 792h1v1h-1zM292 792h2v1h-2zM361 792h1v1h-1zM617 792h1v1h-1zM131 793h1v1h-1zM176 793h2v1h-2zM267 793h2v1h-2zM291 793h1v1h-1zM362 793h1v1h-1zM616 793h1v1h-1zM132 794h2v1h-2zM174 794h2v1h-2zM269 794h2v1h-2zM289 794h2v1h-2zM362 794h1v1h-1zM615 794h1v1h-1zM134 795h2v1h-2zM172 795h2v1h-2zM271 795h3v1h-3zM287 795h2v1h-2zM363 795h1v1h-1zM614 795h1v1h-1zM136 796h1v1h-1zM171 796h1v1h-1zM274 796h5v1h-5zM284 796h3v1h-3zM363 796h1v1h-1zM613 796h1v1h-1zM137 797h2v1h-2zM170 797h1v1h-1zM279 797h5v1h-5zM364 797h1v1h-1zM612 797h1v1h-1zM139 798h2v1h-2zM168 798h2v1h-2zM364 798h1v1h-1zM610 798h2v1h-2zM141 799h2v1h-2zM167 799h1v1h-1zM365 799h1v1h-1zM608 799h2v1h-2zM143 800h2v1h-2zM165 800h2v1h-2zM365 800h1v1h-1zM606 800h2v1h-2zM145 801h3v1h-3zM163 801h2v1h-2zM366 801h1v1h-1zM604 801h2v1h-2zM148 802h2v1h-2zM160 802h3v1h-3zM367 802h1v1h-1zM602 802h2v1h-2zM150 803h4v1h-4zM158 803h2v1h-2zM367 803h1v1h-1zM601 803h1v1h-1zM154 804h4v1h-4zM368 804h1v1h-1zM600 804h1v1h-1zM368 805h1v1h-1zM598 805h2v1h-2zM369 806h1v1h-1zM597 806h1v1h-1zM369 807h1v1h-1zM596 807h1v1h-1zM370 808h1v1h-1zM594 808h2v1h-2zM370 809h1v1h-1zM592 809h2v1h-2zM371 810h1v1h-1zM590 810h2v1h-2zM371 811h1v1h-1zM588 811h2v1h-2zM372 812h1v1h-1zM586 812h2v1h-2zM372 813h1v1h-1zM491 813h8v1h-8zM585 813h1v1h-1zM373 814h1v1h-1zM489 814h2v1h-2zM499 814h3v1h-3zM583 814h2v1h-2zM373 815h1v1h-1zM487 815h2v1h-2zM502 815h1v1h-1zM582 815h1v1h-1zM374 816h1v1h-1zM486 816h1v1h-1zM503 816h2v1h-2zM581 816h1v1h-1zM374 817h1v1h-1zM484 817h2v1h-2zM505 817h1v1h-1zM580 817h1v1h-1zM375 818h1v1h-1zM482 818h2v1h-2zM506 818h1v1h-1zM579 818h1v1h-1zM375 819h1v1h-1zM481 819h1v1h-1zM507 819h1v1h-1zM578 819h1v1h-1zM376 820h1v1h-1zM480 820h1v1h-1zM508 820h1v1h-1zM577 820h1v1h-1zM376 821h1v1h-1zM479 821h1v1h-1zM509 821h1v1h-1zM576 821h1v1h-1zM376 822h1v1h-1zM479 822h1v1h-1zM509 822h1v1h-1zM574 822h2v1h-2zM377 823h1v1h-1zM478 823h1v1h-1zM510 823h1v1h-1zM572 823h2v1h-2zM377 824h1v1h-1zM477 824h1v1h-1zM511 824h1v1h-1zM571 824h1v1h-1zM378 825h1v1h-1zM476 825h1v1h-1zM512 825h1v1h-1zM570 825h1v1h-1zM378 826h1v1h-1zM475 826h1v1h-1zM513 826h2v1h-2zM568 826h2v1h-2zM378 827h1v1h-1zM473 827h2v1h-2zM515 827h1v1h-1zM567 827h1v1h-1zM379 828h1v1h-1zM472 828h1v1h-1zM516 828h1v1h-1zM565 828h2v1h-2zM379 829h1v1h-1zM470 829h2v1h-2zM517 829h1v1h-1zM563 829h2v1h-2zM379 830h1v1h-1zM468 830h2v1h-2zM518 830h2v1h-2zM560 830h3v1h-3zM380 831h1v1h-1zM460 831h8v1h-8zM520 831h1v1h-1zM558 831h2v1h-2zM380 832h1v1h-1zM458 832h2v1h-2zM521 832h2v1h-2zM556 832h2v1h-2zM381 833h1v1h-1zM455 833h3v1h-3zM523 833h2v1h-2zM554 833h2v1h-2zM381 834h1v1h-1zM453 834h2v1h-2zM525 834h4v1h-4zM552 834h2v1h-2zM381 835h1v1h-1zM449 835h4v1h-4zM529 835h5v1h-5zM550 835h2v1h-2zM382 836h1v1h-1zM446 836h3v1h-3zM534 836h5v1h-5zM548 836h2v1h-2zM382 837h1v1h-1zM444 837h2v1h-2zM539 837h9v1h-9zM383 838h1v1h-1zM442 838h2v1h-2zM383 839h1v1h-1zM440 839h2v1h-2zM384 840h1v1h-1zM438 840h2v1h-2zM384 841h1v1h-1zM435 841h3v1h-3zM384 842h1v1h-1zM433 842h2v1h-2zM385 843h1v1h-1zM431 843h2v1h-2zM385 844h1v1h-1zM429 844h2v1h-2zM386 845h1v1h-1zM427 845h2v1h-2zM386 846h1v1h-1zM426 846h1v1h-1zM386 847h1v1h-1zM425 847h1v1h-1zM387 848h1v1h-1zM423 848h2v1h-2zM387 849h1v1h-1zM422 849h1v1h-1zM388 850h1v1h-1zM421 850h1v1h-1zM388 851h1v1h-1zM420 851h1v1h-1zM389 852h1v1h-1zM419 852h1v1h-1zM389 853h1v1h-1zM419 853h1v1h-1zM390 854h1v1h-1zM418 854h1v1h-1zM390 855h1v1h-1zM417 855h1v1h-1zM391 856h1v1h-1zM416 856h1v1h-1zM391 857h1v1h-1zM415 857h1v1h-1zM392 858h1v1h-1zM414 858h1v1h-1zM392 859h1v1h-1zM414 859h1v1h-1zM393 860h1v1h-1zM413 860h1v1h-1zM393 861h1v1h-1zM412 861h1v1h-1zM394 862h1v1h-1zM411 862h1v1h-1zM394 863h1v1h-1zM410 863h1v1h-1zM395 864h1v1h-1zM409 864h1v1h-1zM395 865h1v1h-1zM408 865h1v1h-1zM396 866h1v1h-1zM407 866h1v1h-1zM397 867h2v1h-2zM405 867h2v1h-2zM399 868h2v1h-2zM403 868h2v1h-2zM401 869h2v1h-2z" fill="#0000a0" shape-rendering="crispEdges"/>
<path d="M700 735h2v1h-2zM689 736h5v1h-5zM698 736h2v1h-2zM701 736h1v1h-1zM686 737h3v1h-3zM694 737h4v1h-4zM702 737h1v1h-1zM685 738h1v1h-1zM702 738h1v1h-1zM685 739h1v1h-1zM703 739h1v1h-1zM684 740h1v1h-1zM703 740h1v1h-1zM684 741h1v1h-1zM704 741h1v1h-1zM683 742h1v1h-1zM704 742h1v1h-1zM682 743h1v1h-1zM704 743h1v1h-1zM682 744h1v1h-1zM705 744h1v1h-1zM674 745h8v1h-8zM705 745h1v1h-1zM671 746h3v1h-3zM706 746h1v1h-1zM211 747h1v1h-1zM670 747h1v1h-1zM706 747h1v1h-1zM210 748h1v1h-1zM212 748h2v1h-2zM670 748h1v1h-1zM707 748h1v1h-1zM208 749h2v1h-2zM214 749h2v1h-2zM669 749h1v1h-1zM708 749h1v1h-1zM207 750h1v1h-1zM216 750h1v1h-1zM669 750h1v1h-1zM709 750h1v1h-1zM206 751h1v1h-1zM217 751h1v1h-1zM668 751h1v1h-1zM709 751h1v1h-1zM715 751h3v1h-3zM205 752h1v1h-1zM217 752h1v1h-1zM668 752h1v1h-1zM710 752h1v1h-1zM713 752h2v1h-2zM718 752h3v1h-3zM203 753h2v1h-2zM218 753h1v1h-1zM667 753h1v1h-1zM711 753h2v1h-2zM202 754h1v1h-1zM218 754h1v1h-1zM667 754h1v1h-1zM201 755h1v1h-1zM219 755h1v1h-1zM666 755h1v1h-1zM201 756h1v1h-1zM219 756h1v1h-1zM665 756h1v1h-1zM200 757h1v1h-1zM220 757h1v1h-1zM665 757h1v1h-1zM200 758h1v1h-1zM220 758h1v1h-1zM664 758h1v1h-1zM199 759h1v1h-1zM221 759h1v1h-1zM663 759h1v1h-1zM199 760h1v1h-1zM221 760h2v1h-2zM331 760h1v1h-1zM662 760h1v1h-1zM198 761h1v1h-1zM223 761h2v1h-2zM330 761h2v1h-2zM662 761h1v1h-1zM198 762h1v1h-1zM225 762h2v1h-2zM329 762h1v1h-1zM332 762h1v1h-1zM661 762h1v1h-1zM197 763h1v1h-1zM227 763h1v1h-1zM328 763h1v1h-1zM332 763h1v1h-1zM660 763h1v1h-1zM197 764h1v1h-1zM228 764h2v1h-2zM327 764h1v1h-1zM333 764h1v1h-1zM631 764h1v1h-1zM658 764h2v1h-2zM196 765h1v1h-1zM230 765h1v1h-1zM326 765h1v1h-1zM333 765h1v1h-1zM630 765h1v1h-1zM632 765h1v1h-1zM657 765h1v1h-1zM195 766h1v1h-1zM231 766h1v1h-1zM325 766h1v1h-1zM334 766h1v1h-1zM628 766h2v1h-2zM632 766h1v1h-1zM656 766h1v1h-1zM194 767h1v1h-1zM232 767h1v1h-1zM301 767h1v1h-1zM324 767h1v1h-1zM334 767h1v1h-1zM627 767h1v1h-1zM633 767h1v1h-1zM654 767h2v1h-2zM194 768h1v1h-1zM233 768h1v1h-1zM300 768h1v1h-1zM302 768h1v1h-1zM315 768h3v1h-3zM323 768h1v1h-1zM335 768h1v1h-1zM626 768h1v1h-1zM634 768h1v1h-1zM652 768h2v1h-2zM193 769h1v1h-1zM234 769h1v1h-1zM300 769h1v1h-1zM303 769h2v1h-2zM313 769h2v1h-2zM318 769h2v1h-2zM322 769h1v1h-1zM335 769h1v1h-1zM624 769h2v1h-2zM635 769h1v1h-1zM651 769h1v1h-1zM192 770h1v1h-1zM235 770h1v1h-1zM299 770h1v1h-1zM305 770h1v1h-1zM309 770h4v1h-4zM320 770h2v1h-2zM336 770h1v1h-1zM622 770h2v1h-2zM635 770h1v1h-1zM650 770h1v1h-1zM191 771h1v1h-1zM236 771h1v1h-1zM299 771h1v1h-1zM306 771h3v1h-3zM336 771h1v1h-1zM621 771h1v1h-1zM636 771h6v1h-6zM649 771h1v1h-1zM190 772h1v1h-1zM237 772h1v1h-1zM298 772h1v1h-1zM337 772h1v1h-1zM620 772h1v1h-1zM642 772h2v1h-2zM648 772h1v1h-1zM190 773h1v1h-1zM238 773h1v1h-1zM298 773h1v1h-1zM337 773h1v1h-1zM620 773h1v1h-1zM644 773h2v1h-2zM647 773h1v1h-1zM189 774h1v1h-1zM239 774h1v1h-1zM297 774h1v1h-1zM338 774h1v1h-1zM619 774h1v1h-1zM646 774h1v1h-1zM189 775h1v1h-1zM239 775h1v1h-1zM297 775h1v1h-1zM338 775h1v1h-1zM618 775h1v1h-1zM188 776h1v1h-1zM240 776h1v1h-1zM296 776h1v1h-1zM339 776h1v1h-1zM617 776h1v1h-1zM99 777h2v1h-2zM188 777h1v1h-1zM241 777h1v1h-1zM295 777h1v1h-1zM339 777h1v1h-1zM617 777h1v1h-1zM86 778h13v1h-13zM101 778h2v1h-2zM187 778h1v1h-1zM242 778h1v1h-1zM294 778h1v1h-1zM340 778h1v1h-1zM616 778h1v1h-1zM103 779h1v1h-1zM187 779h1v1h-1zM242 779h1v1h-1zM293 779h1v1h-1zM340 779h1v1h-1zM615 779h1v1h-1zM103 780h1v1h-1zM171 780h6v1h-6zM186 780h1v1h-1zM243 780h1v1h-1zM292 780h1v1h-1zM341 780h1v1h-1zM615 780h1v1h-1zM104 781h1v1h-1zM170 781h1v1h-1zM177 781h2v1h-2zM184 781h2v1h-2zM244 781h1v1h-1zM291 781h1v1h-1zM342 781h1v1h-1zM614 781h1v1h-1zM104 782h2v1h-2zM169 782h1v1h-1zM179 782h2v1h-2zM182 782h2v1h-2zM244 782h1v1h-1zM291 782h1v1h-1zM343 782h1v1h-1zM614 782h1v1h-1zM106 783h4v1h-4zM169 783h1v1h-1zM181 783h1v1h-1zM245 783h1v1h-1zM290 783h1v1h-1zM344 783h1v1h-1zM613 783h1v1h-1zM110 784h2v1h-2zM168 784h1v1h-1zM245 784h1v1h-1zM290 784h1v1h-1zM344 784h1v1h-1zM612 784h1v1h-1zM112 785h1v1h-1zM167 785h1v1h-1zM246 785h1v1h-1zM289 785h1v1h-1zM345 785h1v1h-1zM612 785h1v1h-1zM112 786h1v1h-1zM166 786h1v1h-1zM247 786h1v1h-1zM289 786h1v1h-1zM346 786h1v1h-1zM609 786h3v1h-3zM113 787h1v1h-1zM166 787h1v1h-1zM247 787h1v1h-1zM288 787h1v1h-1zM347 787h1v1h-1zM601 787h8v1h-8zM114 788h1v1h-1zM165 788h1v1h-1zM248 788h1v1h-1zM288 788h1v1h-1zM348 788h1v1h-1zM600 788h1v1h-1zM115 789h1v1h-1zM165 789h1v1h-1zM248 789h1v1h-1zM287 789h1v1h-1zM349 789h1v1h-1zM600 789h1v1h-1zM115 790h1v1h-1zM164 790h1v1h-1zM249 790h1v1h-1zM287 790h1v1h-1zM349 790h1v1h-1zM599 790h1v1h-1zM116 791h1v1h-1zM164 791h1v1h-1zM249 791h1v1h-1zM286 791h1v1h-1zM350 791h1v1h-1zM598 791h1v1h-1zM117 792h1v1h-1zM163 792h1v1h-1zM250 792h1v1h-1zM286 792h1v1h-1zM351 792h1v1h-1zM597 792h1v1h-1zM118 793h1v1h-1zM163 793h1v1h-1zM250 793h1v1h-1zM285 793h1v1h-1zM351 793h1v1h-1zM597 793h1v1h-1zM119 794h1v1h-1zM162 794h1v1h-1zM251 794h1v1h-1zM285 794h1v1h-1zM351 794h1v1h-1zM596 794h1v1h-1zM119 795h1v1h-1zM162 795h1v1h-1zM251 795h1v1h-1zM284 795h1v1h-1zM352 795h1v1h-1zM595 795h1v1h-1zM120 796h1v1h-1zM161 796h1v1h-1zM251 796h1v1h-1zM283 796h1v1h-1zM352 796h1v1h-1zM481 796h3v1h-3zM594 796h1v1h-1zM121 797h1v1h-1zM161 797h1v1h-1zM252 797h1v1h-1zM282 797h1v1h-1zM352 797h1v1h-1zM481 797h1v1h-1zM484 797h3v1h-3zM593 797h1v1h-1zM122 798h1v1h-1zM161 798h1v1h-1zM252 798h1v1h-1zM282 798h1v1h-1zM352 798h1v1h-1zM480 798h1v1h-1zM487 798h1v1h-1zM592 798h1v1h-1zM123 799h1v1h-1zM160 799h1v1h-1zM253 799h1v1h-1zM281 799h1v1h-1zM352 799h1v1h-1zM480 799h1v1h-1zM487 799h1v1h-1zM581 799h2v1h-2zM590 799h2v1h-2zM124 800h1v1h-1zM160 800h1v1h-1zM253 800h1v1h-1zM280 800h1v1h-1zM352 800h1v1h-1zM480 800h1v1h-1zM488 800h1v1h-1zM580 800h1v1h-1zM583 800h2v1h-2zM588 800h2v1h-2zM124 801h1v1h-1zM160 801h1v1h-1zM253 801h1v1h-1zM278 801h2v1h-2zM353 801h1v1h-1zM479 801h1v1h-1zM488 801h1v1h-1zM580 801h1v1h-1zM585 801h3v1h-3zM125 802h1v1h-1zM160 802h1v1h-1zM254 802h1v1h-1zM277 802h1v1h-1zM353 802h1v1h-1zM479 802h1v1h-1zM489 802h1v1h-1zM579 802h1v1h-1zM126 803h1v1h-1zM159 803h1v1h-1zM254 803h1v1h-1zM276 803h1v1h-1zM353 803h1v1h-1zM479 803h1v1h-1zM489 803h1v1h-1zM579 803h1v1h-1zM127 804h1v1h-1zM159 804h1v1h-1zM254 804h1v1h-1zM274 804h2v1h-2zM353 804h1v1h-1zM478 804h1v1h-1zM490 804h1v1h-1zM578 804h1v1h-1zM128 805h1v1h-1zM159 805h1v1h-1zM255 805h1v1h-1zM272 805h2v1h-2zM353 805h1v1h-1zM478 805h1v1h-1zM490 805h1v1h-1zM577 805h1v1h-1zM129 806h1v1h-1zM134 806h2v1h-2zM158 806h1v1h-1zM255 806h1v1h-1zM269 806h3v1h-3zM354 806h1v1h-1zM477 806h1v1h-1zM491 806h1v1h-1zM577 806h1v1h-1zM130 807h1v1h-1zM132 807h2v1h-2zM136 807h2v1h-2zM158 807h1v1h-1zM256 807h1v1h-1zM266 807h3v1h-3zM354 807h1v1h-1zM477 807h1v1h-1zM492 807h1v1h-1zM576 807h1v1h-1zM131 808h1v1h-1zM138 808h1v1h-1zM157 808h1v1h-1zM256 808h1v1h-1zM265 808h1v1h-1zM354 808h1v1h-1zM477 808h1v1h-1zM493 808h1v1h-1zM575 808h1v1h-1zM139 809h2v1h-2zM150 809h4v1h-4zM157 809h1v1h-1zM257 809h2v1h-2zM263 809h2v1h-2zM354 809h1v1h-1zM476 809h1v1h-1zM494 809h1v1h-1zM574 809h1v1h-1zM141 810h2v1h-2zM147 810h3v1h-3zM154 810h3v1h-3zM259 810h2v1h-2zM262 810h1v1h-1zM355 810h1v1h-1zM476 810h1v1h-1zM494 810h1v1h-1zM573 810h1v1h-1zM143 811h4v1h-4zM261 811h1v1h-1zM355 811h1v1h-1zM476 811h1v1h-1zM495 811h1v1h-1zM572 811h1v1h-1zM355 812h1v1h-1zM475 812h1v1h-1zM496 812h1v1h-1zM571 812h1v1h-1zM355 813h1v1h-1zM475 813h1v1h-1zM497 813h1v1h-1zM570 813h1v1h-1zM356 814h1v1h-1zM474 814h1v1h-1zM498 814h1v1h-1zM570 814h1v1h-1zM356 815h1v1h-1zM474 815h1v1h-1zM499 815h1v1h-1zM569 815h1v1h-1zM356 816h1v1h-1zM474 816h1v1h-1zM500 816h1v1h-1zM568 816h1v1h-1zM357 817h1v1h-1zM473 817h1v1h-1zM501 817h1v1h-1zM567 817h1v1h-1zM358 818h1v1h-1zM473 818h1v1h-1zM501 818h1v1h-1zM567 818h1v1h-1zM359 819h1v1h-1zM472 819h1v1h-1zM502 819h1v1h-1zM565 819h2v1h-2zM360 820h1v1h-1zM472 820h1v1h-1zM502 820h1v1h-1zM563 820h2v1h-2zM361 821h1v1h-1zM471 821h1v1h-1zM502 821h1v1h-1zM560 821h3v1h-3zM362 822h1v1h-1zM471 822h1v1h-1zM502 822h1v1h-1zM558 822h2v1h-2zM362 823h1v1h-1zM416 823h1v1h-1zM470 823h1v1h-1zM503 823h1v1h-1zM556 823h2v1h-2zM363 824h1v1h-1zM416 824h2v1h-2zM455 824h2v1h-2zM469 824h1v1h-1zM503 824h1v1h-1zM554 824h2v1h-2zM363 825h1v1h-1zM415 825h1v1h-1zM418 825h1v1h-1zM453 825h2v1h-2zM457 825h2v1h-2zM469 825h1v1h-1zM503 825h1v1h-1zM552 825h2v1h-2zM364 826h1v1h-1zM415 826h1v1h-1zM419 826h1v1h-1zM450 826h3v1h-3zM459 826h2v1h-2zM468 826h1v1h-1zM504 826h1v1h-1zM551 826h1v1h-1zM364 827h1v1h-1zM415 827h1v1h-1zM419 827h1v1h-1zM448 827h2v1h-2zM461 827h3v1h-3zM467 827h1v1h-1zM504 827h1v1h-1zM551 827h1v1h-1zM365 828h1v1h-1zM415 828h1v1h-1zM420 828h1v1h-1zM441 828h7v1h-7zM464 828h3v1h-3zM504 828h1v1h-1zM550 828h1v1h-1zM365 829h1v1h-1zM414 829h1v1h-1zM421 829h1v1h-1zM440 829h1v1h-1zM504 829h1v1h-1zM550 829h1v1h-1zM366 830h1v1h-1zM414 830h1v1h-1zM422 830h2v1h-2zM438 830h2v1h-2zM505 830h1v1h-1zM549 830h1v1h-1zM366 831h1v1h-1zM414 831h1v1h-1zM424 831h2v1h-2zM437 831h1v1h-1zM505 831h1v1h-1zM549 831h1v1h-1zM367 832h1v1h-1zM414 832h1v1h-1zM426 832h11v1h-11zM505 832h1v1h-1zM548 832h1v1h-1zM367 833h1v1h-1zM413 833h1v1h-1zM505 833h1v1h-1zM548 833h1v1h-1zM367 834h1v1h-1zM413 834h1v1h-1zM506 834h1v1h-1zM547 834h1v1h-1zM367 835h1v1h-1zM413 835h1v1h-1zM506 835h1v1h-1zM547 835h1v1h-1zM368 836h1v1h-1zM413 836h1v1h-1zM506 836h1v1h-1zM546 836h1v1h-1zM368 837h1v1h-1zM412 837h1v1h-1zM507 837h1v1h-1zM546 837h1v1h-1zM368 838h1v1h-1zM412 838h1v1h-1zM507 838h1v1h-1zM534 838h4v1h-4zM544 838h2v1h-2zM368 839h1v1h-1zM412 839h1v1h-1zM508 839h1v1h-1zM531 839h3v1h-3zM538 839h2v1h-2zM542 839h2v1h-2zM369 840h1v1h-1zM412 840h1v1h-1zM508 840h1v1h-1zM530 840h1v1h-1zM540 840h2v1h-2zM369 841h1v1h-1zM411 841h1v1h-1zM509 841h1v1h-1zM529 841h1v1h-1zM369 842h1v1h-1zM411 842h1v1h-1zM509 842h1v1h-1zM529 842h1v1h-1zM369 843h1v1h-1zM411 843h1v1h-1zM510 843h1v1h-1zM528 843h1v1h-1zM370 844h1v1h-1zM410 844h1v1h-1zM510 844h1v1h-1zM527 844h1v1h-1zM370 845h1v1h-1zM410 845h1v1h-1zM511 845h1v1h-1zM514 845h5v1h-5zM524 845h3v1h-3zM370 846h1v1h-1zM410 846h1v1h-1zM511 846h3v1h-3zM519 846h5v1h-5zM370 847h1v1h-1zM410 847h1v1h-1zM371 848h1v1h-1zM409 848h1v1h-1zM371 849h1v1h-1zM409 849h1v1h-1zM371 850h1v1h-1zM409 850h1v1h-1zM372 851h1v1h-1zM409 851h1v1h-1zM372 852h1v1h-1zM408 852h1v1h-1zM372 853h1v1h-1zM408 853h1v1h-1zM372 854h1v1h-1zM408 854h1v1h-1zM373 855h1v1h-1zM408 855h1v1h-1zM373 856h1v1h-1zM407 856h1v1h-1zM373 857h1v1h-1zM407 857h1v1h-1zM373 858h1v1h-1zM407 858h1v1h-1zM374 859h1v1h-1zM407 859h1v1h-1zM374 860h1v1h-1zM406 860h1v1h-1zM374 861h1v1h-1zM406 861h1v1h-1zM374 862h1v1h-1zM406 862h1v1h-1zM375 863h1v1h-1zM405 863h1v1h-1zM375 864h1v1h-1zM405 864h1v1h-1zM375 865h1v1h-1zM405 865h1v1h-1zM375 866h1v1h-1zM405 866h1v1h-1zM376 867h1v1h-1zM404 867h1v1h-1zM376 868h1v1h-1zM404 868h1v1h-1zM376 869h1v1h-1zM404 869h1v1h-1zM376 870h1v1h-1zM403 870h1v1h-1zM377 871h1v1h-1zM403 871h1v1h-1zM377 872h1v1h-1zM403 872h1v1h-1zM377 873h1v1h-1zM402 873h1v1h-1zM377 874h1v1h-1zM402 874h1v1h-1zM378 875h1v1h-1zM402 875h1v1h-1zM378 876h1v1h-1zM402 876h1v1h-1zM378 877h1v1h-1zM401 877h1v1h-1zM379 878h1v1h-1zM401 878h1v1h-1zM379 879h1v1h-1zM401 879h1v1h-1zM379 880h1v1h-1zM400 880h1v1h-1zM379 881h1v1h-1zM400 881h1v1h-1zM380 882h1v1h-1zM399 882h1v1h-1zM380 883h1v1h-1zM399 883h1v1h-1zM380 884h1v1h-1zM399 884h1v1h-1zM380 885h1v1h-1zM398 885h1v1h-1zM381 886h1v1h-1zM398 886h1v1h-1zM381 887h1v1h-1zM398 887h1v1h-1zM382 888h1v1h-1zM397 888h1v1h-1zM382 889h1v1h-1zM397 889h1v1h-1zM383 890h1v1h-1zM396 890h1v1h-1zM383 891h1v1h-1zM396 891h1v1h-1zM384 892h1v1h-1zM396 892h1v1h-1zM384 893h1v1h-1zM395 893h1v1h-1zM385 894h1v1h-1zM395 894h1v1h-1zM385 895h1v1h-1zM394 895h1v1h-1zM386 896h1v1h-1zM394 896h1v1h-1zM386 897h1v1h-1zM394 897h1v1h-1zM387 898h1v1h-1zM393 898h1v1h-1zM388 899h1v1h-1zM393 899h1v1h-1zM389 900h1v1h-1zM392 900h1v1h-1zM389 901h1v1h-1zM392 901h1v1h-1zM390 902h2v1h-2zM391 903h1v1h-1z" fill="#000" shape-rendering="crispEdges"/>
<g font-family="'Liberation Sans',sans-serif" font-size="12.5" fill="#2b3956" text-anchor="end">
<text x="80" y="48">3057.54</text>
<text x="80" y="103">2961.83</text>
<text x="80" y="158">2866.11</text>
<text x="80" y="213">2770.40</text>
<text x="80" y="268">2674.69</text>
<text x="80" y="323">2578.97</text>
<text x="80" y="378">2483.26</text>
<text x="80" y="433">2387.55</text>
<text x="80" y="488">2291.83</text>
<text x="80" y="543">2196.12</text>
<text x="80" y="598">2100.41</text>
<text x="80" y="653">2004.69</text>
<text x="80" y="731">30.64</text>
<text x="80" y="755">22.63</text>
<text x="80" y="780">14.61</text>
<text x="80" y="804">6.60</text>
<text x="80" y="829">-1.41</text>
<text x="80" y="854">-9.43</text>
<text x="80" y="878">-17.44</text>
<text x="80" y="903">-25.46</text>
</g>
<g font-family="'Liberation Sans',sans-serif" font-size="12.5" font-weight="bold" fill="#222">
<text x="123.6" y="937">2024/09</text>
<text x="228.6" y="937">2024/10</text>
<text x="343.6" y="937">2024/11</text>
<text x="448.6" y="937">2024/12</text>
<text x="553.6" y="937">2025/01</text>
<text x="663.6" y="937">2025/02</text>
</g>
<text x="696.3" y="107.6" font-family="'Liberation Sans',sans-serif" font-size="12" font-weight="bold" fill="#d24a4a">2942.53</text>
<g fill="none" stroke="#ff8000"><circle cx="185.7" cy="34.5" r="4.1" stroke-width="1"/><path d="M181.6 34.5H189.8" stroke-width="1"/><path d="M185.7 30.4V38.6" stroke-width=".8" opacity=".7"/></g>
<g shape-rendering="crispEdges"><rect x="200" y="26" width="11" height="12" fill="#a8a89c"/><rect x="198" y="24" width="12" height="13" rx="1" fill="#000090"/><rect x="199" y="25" width="10" height="11" fill="#fff"/></g>
<path d="M199 31.8 L202.5 27.4 L205.4 30.6 L207.8 28.3 L209 28.3" fill="none" stroke="#ff0000" stroke-width="1.1"/>
<path d="M199 34.7 L202.5 30.4 L205.4 33.7 L207.8 31.3 L209 31.3" fill="none" stroke="#0000ff" stroke-width="1.1"/>
<g><circle cx="22" cy="712.5" r="3.6" fill="#fff" stroke="#000" stroke-width="1"/><circle cx="22" cy="712.5" r="2" fill="#ff0000"/>
<line x1="27.4" y1="712.5" x2="29.4" y2="712.5" stroke="#ff0000" stroke-width="1.3"/>
<line x1="25.8" y1="716.3" x2="27.2" y2="717.7" stroke="#ff0000" stroke-width="1.3"/>
<line x1="22.0" y1="717.9" x2="22.0" y2="719.9" stroke="#ff0000" stroke-width="1.3"/>
<line x1="18.2" y1="716.3" x2="16.8" y2="717.7" stroke="#ff0000" stroke-width="1.3"/>
<line x1="16.6" y1="712.5" x2="14.6" y2="712.5" stroke="#ff0000" stroke-width="1.3"/>
<line x1="18.2" y1="708.7" x2="16.8" y2="707.3" stroke="#ff0000" stroke-width="1.3"/>
<line x1="22.0" y1="707.1" x2="22.0" y2="705.1" stroke="#ff0000" stroke-width="1.3"/>
<line x1="25.8" y1="708.7" x2="27.2" y2="707.3" stroke="#ff0000" stroke-width="1.3"/>
</g>
<text x="1057.5" y="918.3" font-family="'Liberation Sans',sans-serif" font-size="30.5" letter-spacing="2.1" fill="#b9aaa0" opacity=".9">FX678</text>
<text x="1056.5" y="917.3" font-family="'Liberation Sans',sans-serif" font-size="30.5" letter-spacing="2.1" fill="#dceafa">FX678</text>
</svg>
<div id="tb">
<div class="b" style="left:64px;width:70px"><span class="cj" style="position:absolute;left:29.5px;top:1px">首页</span></div>
<div class="b" style="left:135px;width:66px"></div>
<div class="b" style="left:202px;width:46px"></div>
<div class="b" style="left:249px;width:47px"></div>
<div class="b" style="left:297px;width:46px"><span style="font-size:17px;top:0px;left:-1.5px;position:relative">tick</span></div>
<div class="b" style="left:344px;width:45px"><span style="font-size:13px;position:relative;left:-1px">5日</span></div>
<div class="b" style="left:390px;width:27px">5</div>
<div class="b" style="left:418px;width:27px">15</div>
<div class="b" style="left:446px;width:27px">30</div>
<div class="b" style="left:474px;width:27px">60</div>
<div class="b" style="left:502px;width:27px">2H</div>
<div class="b" style="left:530px;width:27px">4H</div>
<div class="b" style="left:558px;width:27px"><span class="cj" style="position:relative;top:1px">日</span></div>
<div class="b" style="left:586px;width:27px"><span class="cj" style="position:relative;top:1px">周</span></div>
<div class="b" style="left:614px;width:27px"><span class="cj" style="position:relative;top:1px">月</span></div>
<div class="b" style="left:642px;width:27px"><span class="cj" style="position:relative;top:1px">年</span></div>
<div class="b" style="left:670px;width:70px"><span class="cj" style="position:absolute;left:31px;top:1px">更多</span></div>
<div class="b" style="left:741px;width:27px"></div>
<div class="b" style="left:769px;width:46px"></div>
<div class="b" style="left:816px;width:46px"></div>
<div class="b" style="left:863px;width:46px"></div>
<div class="b" style="left:910px;width:26px"></div>
<div class="b" style="left:937px;width:28px"></div>
<div class="b" style="left:966px;width:75px"><span style="position:absolute;left:5.5px;top:0;font-weight:bold;font-size:15.5px">$</span><span class="cj" style="position:absolute;left:17px;top:1px;letter-spacing:.5px">模拟交易</span></div>
<div class="b" style="left:1042px;width:82px"><span class="cj" style="position:absolute;left:28.5px;top:1px;font-size:11.8px;letter-spacing:.35px">汇通财经</span></div>
<div class="b" style="left:1125px;width:75px"><span class="cj" style="position:absolute;left:14.5px;top:1px;font-size:11.8px;letter-spacing:1.1px">财经日历</span></div>
</div>
<svg id="icons" width="1185" height="24" viewBox="0 0 1185 24" style="position:absolute;left:0;top:0">
<g fill="#3b4452" stroke="none">
<path d="M84.5 2.9 L77.7 9.7 L78.5 10.4 L79.8 9.3 V15.9 H83.3 V11.8 H85.9 V15.9 H89.2 V9.3 L90.5 10.4 L91.3 9.7 Z"/>
<path d="M172.8 8.2 L178.2 8.9 L175.3 12.2 Z"/>
<path d="M216 14.3 L219 11.8 V16.9 H216Z M221.1 9.6 L224.1 8.4 V16.9 H221.1Z M226.2 12.7 L229.1 10.1 V16.9 H226.2Z M231.2 7.6 L234.2 5.1 V16.9 H231.2Z"/>
<path d="M262 7.4 L263.7 5.9 L265.4 7.4 V11.2 L263.7 12.7 L262 11.2Z"/>
<rect x="268.8" y="2.1" width="1.2" height="14.8"/><rect x="267.5" y="4.2" width="3.8" height="7.6" rx=".6"/>
<rect x="274" y="5.9" width="1.2" height="9.7"/><rect x="273" y="8.4" width="3.4" height="4.3" rx=".6"/>
<rect x="279.7" y="3.8" width="1.2" height="11.8"/><rect x="278.3" y="7.6" width="3.6" height="4.6" rx=".6"/>
<rect x="684.1" y="3.2" width="13.9" height="2.4" rx="1.1"/><rect x="684.1" y="8.1" width="13.9" height="2.4" rx="1.1"/><rect x="684.1" y="13.2" width="13.9" height="2.5" rx="1.1"/>
<path d="M881.2 14.4 L881.9 11.2 L889.6 3.5 L892 5.9 L884.3 13.6 Z M890.3 2.8 L891.2 1.9 L893.6 4.3 L892.7 5.2 Z"/>
<rect x="879" y="15.6" width="15" height="1.2"/>
</g>
<g fill="none" stroke="#3b4452">
<path d="M172.89 13.01 A6.05 6.05 0 1 1 173.96 8.40" stroke-width="1.7"/>
<path d="M216 10.6 L222.8 4.6 L227 8.4 L233.9 2.3" stroke-width="1.2"/>
<circle cx="792.2" cy="8.8" r="6.6" stroke-width="1.2"/><path d="M796.9 13.6 L800 16.6 M788.8 8.7 H795.5" stroke-width="1.2"/>
<circle cx="839.3" cy="8.8" r="6.6" stroke-width="1.2"/><path d="M844 13.6 L847.1 16.6 M835.9 8.7 H842.6 M839.3 5.4 V12.1" stroke-width="1.2"/>
<path d="M914.2 2.3 H933" stroke-width="1.2"/><path d="M914.8 17.6 L923.6 6.4 L932.4 17.6" stroke-width="1.1"/><path d="M914.2 17.9 H933" stroke="#8a8e99" stroke-width="1.3"/>
<path d="M942 1.9 H961" stroke="#8a8e99" stroke-width="1.3"/><path d="M942.6 2.2 L951.6 13.6 L960.4 2.2" stroke-width="1.1"/><path d="M942 17.5 H961" stroke-width="1.2"/>
<circle cx="1062" cy="9.3" r="5.9" stroke-width="1.2"/>
<path d="M1062.96 3.88 A5.5 5.5 0 1 1 1059.25 14.06" stroke-width="2"/>
<path d="M1059.31 9.26 A2.7 2.7 0 1 1 1062.92 12.04 L1062.3 10.6" stroke-width="1.2"/>
<path d="M1056.6 12.2 A6.2 6.2 0 0 0 1060 15" stroke-width="1.6"/>
</g>
<text x="746.5" y="13.6" font-family="'Liberation Serif',serif" font-style="italic" font-weight="bold" font-size="19" fill="#3b4452">f</text>
<text x="754.4" y="15.8" font-family="'Liberation Sans',sans-serif" font-weight="bold" font-size="13.5" fill="#3b4452">x</text>
</svg>
<div id="back"><span style="position:absolute;left:24px;top:0">返回</span><svg width="14" height="10" viewBox="0 0 14 10" style="position:absolute;left:0;top:0"><path d="M2.7 0 H6.5 L13.5 6.6 H9 Z M0 2 L3.2 6.6 H0 Z" fill="#fff"/></svg></div>
<div id="side">
<div style="height:51px"><span style="top:6px">分时图</span></div>
<div style="height:46px;background:#ff6a00;color:#fff;font-family:'Liberation Serif','Noto Serif CJK SC',serif"><span style="top:4px">K线图</span></div>
<div style="height:52px"><span style="top:6px">闪电图</span></div>
<div style="height:65px"><span style="top:6px">合约资料</span></div>
</div>
<div id="tip"><span style="position:absolute;left:7px;top:0">返回</span></div>
<div id="leg"><span style="left:0;font-weight:500;font-size:12px">现货黄金</span><span style="left:46px;color:#ff7a00">【日线】</span>
<span id="l1" style="left:128.5px;letter-spacing:.1px">MA1(55,0,0,0)</span><span id="l2" style="left:211px;letter-spacing:.15px">MA55:2726.37</span><span id="l3" style="left:301px;letter-spacing:.33px;color:#0000b0">MA0:2932.15</span><span id="l4" style="left:384.5px;letter-spacing:.31px;color:#ff00ff">MA0:2932.15</span><span id="l5" style="left:466.5px;letter-spacing:.31px;color:#ff8000">MA0:2932.15</span></div>
<div id="mleg"><span id="m1" style="left:0;letter-spacing:.17px">MACD(13,8,9)</span><span id="m2" style="left:82.5px;letter-spacing:-.05px">DIFF:22.59</span><span id="m3" style="left:150px;color:#0000a0">DEA:23.84</span><span id="m4" style="left:216px;letter-spacing:.3px;color:#ff00ff">MACD:-2.48</span></div>
<div id="per">日线 <span style="font-size:15px;position:relative;top:.5px;left:-1px">▲</span></div>
</body></html>
